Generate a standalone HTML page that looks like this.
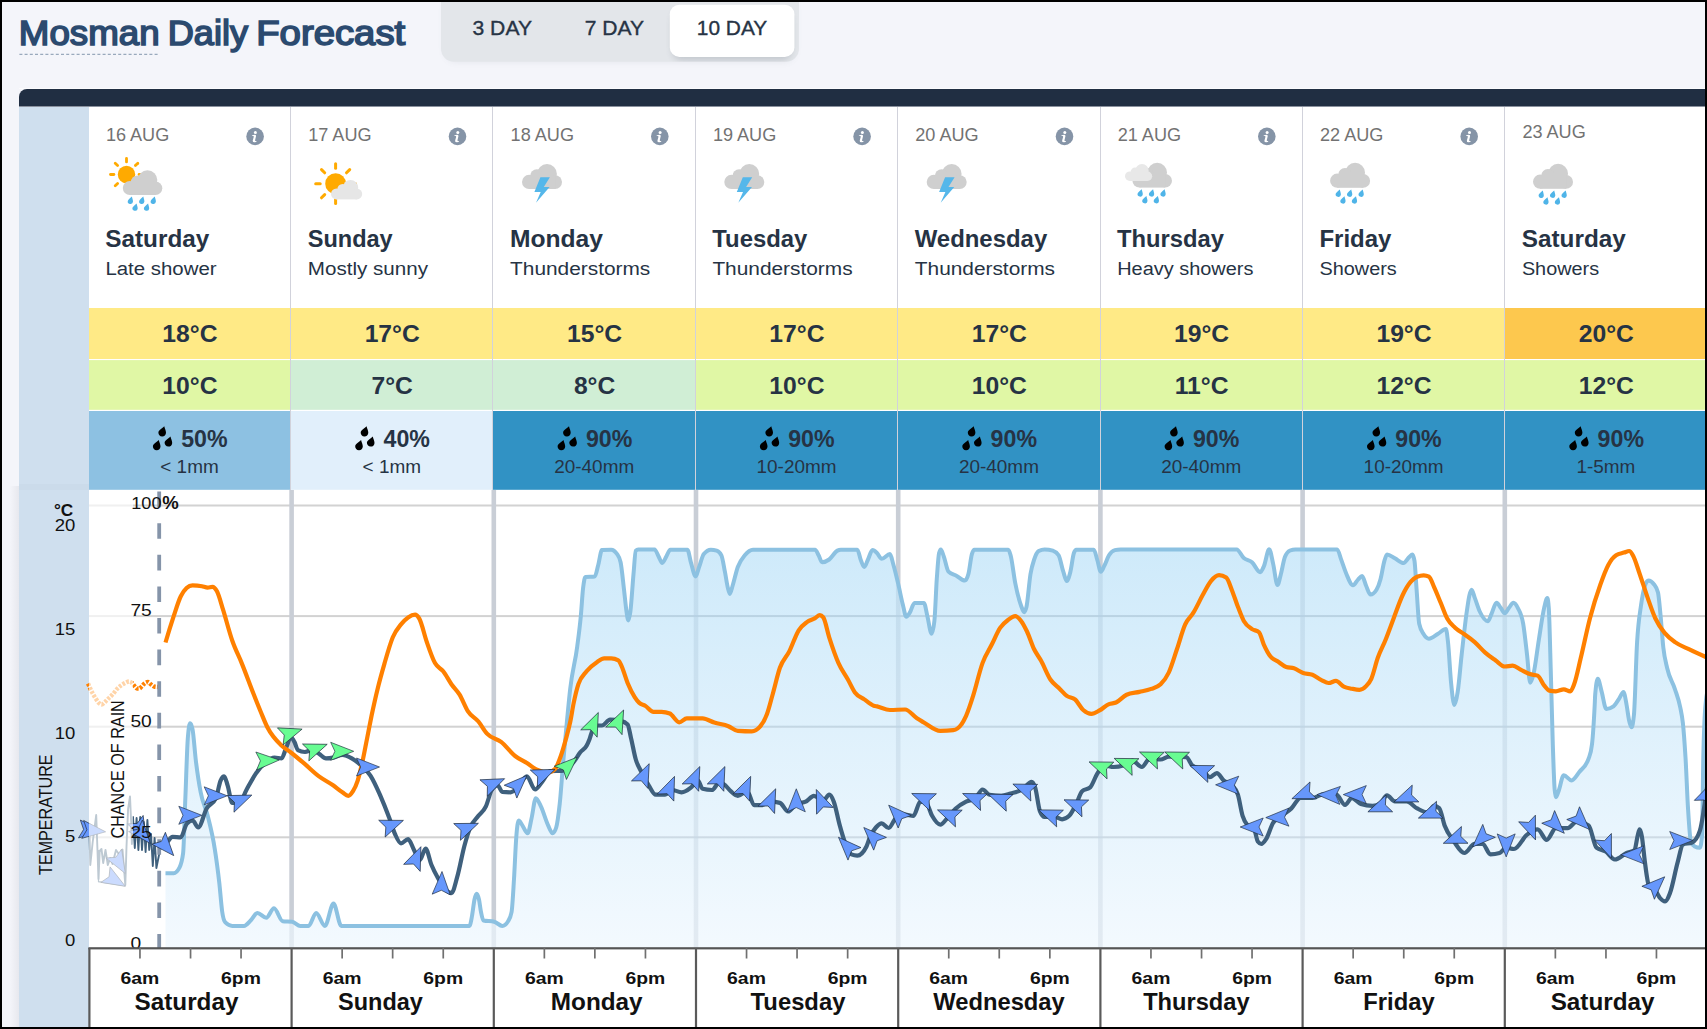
<!DOCTYPE html>
<html lang="en"><head><meta charset="utf-8"><title>Mosman Daily Forecast</title>
<style>html,body{margin:0;padding:0;background:#f4f5fa;}body{width:1707px;height:1029px;overflow:hidden;position:relative;font-family:"Liberation Sans", sans-serif;}svg{display:block;position:absolute;left:0;top:0;}text{font-family:"Liberation Sans", sans-serif;}</style>
</head><body>
<svg width="1707" height="1029" viewBox="0 0 1707 1029">
<defs>
<linearGradient id="rg" gradientUnits="userSpaceOnUse" x1="0" y1="549" x2="0" y2="948"><stop offset="0" stop-color="rgb(186,225,248)" stop-opacity="0.7"/><stop offset="1" stop-color="rgb(238,247,254)" stop-opacity="0.7"/></linearGradient>
<linearGradient id="lsh" x1="0" y1="0" x2="1" y2="0"><stop offset="0" stop-color="#f4f5fa" stop-opacity="0"/><stop offset="0.45" stop-color="#f4f5fa"/><stop offset="1" stop-color="#e7e8ee"/></linearGradient>
<linearGradient id="fadeL" x1="0" y1="0" x2="1" y2="0"><stop offset="0" stop-color="#fff" stop-opacity="0.75"/><stop offset="0.85" stop-color="#fff" stop-opacity="0.7"/><stop offset="1" stop-color="#fff" stop-opacity="0"/></linearGradient>
<clipPath id="chartclip"><rect x="89" y="490" width="1616" height="459"/></clipPath>
<clipPath id="obsclip"><rect x="77.5" y="490" width="91" height="459"/></clipPath>
<path id="arr" d="M0 0L-23 -9L-18.8 0L-23 9Z"/>
</defs>
<rect x="0" y="0" width="1707" height="1029" fill="#f4f5fa"/>
<g font-size="34.3" fill="#2b4a6f" stroke="#2b4a6f" stroke-width="1.6" stroke-linejoin="miter" stroke-miterlimit="3">
<text x="18.8" y="44.6" textLength="140.8" lengthAdjust="spacingAndGlyphs">Mosman</text>
<text x="167.8" y="44.6" textLength="80.2" lengthAdjust="spacingAndGlyphs">Daily</text>
<text x="256.2" y="44.6" textLength="149" lengthAdjust="spacingAndGlyphs">Forecast</text>
</g>
<line x1="19.4" y1="54.3" x2="159" y2="54.3" stroke="#8296ad" stroke-width="1" stroke-dasharray="3 2.2"/>
<filter id="b4" x="-20%" y="-40%" width="140%" height="200%"><feGaussianBlur stdDeviation="3.2"/></filter>
<rect x="444" y="-6" width="352" height="68.5" rx="13" fill="#6b7686" opacity="0.10" filter="url(#b4)"/>
<clipPath id="tabclip"><rect x="441" y="-10" width="358" height="71.8" rx="13"/></clipPath>
<rect x="441" y="-10" width="358" height="71.8" rx="13" fill="#e3e6ea"/>
<g clip-path="url(#tabclip)"><rect x="672" y="10" width="120" height="50.5" rx="10" fill="#4b5563" opacity="0.2" filter="url(#b4)"/></g>
<rect x="669.8" y="4.7" width="124.6" height="52.2" rx="9.5" fill="#ffffff"/>
<g font-size="20.8" fill="#273445" stroke="#273445" stroke-width="0.35">
<text x="472.5" y="34.8" textLength="59.5" lengthAdjust="spacingAndGlyphs">3 DAY</text>
<text x="584.7" y="34.8" textLength="59.3" lengthAdjust="spacingAndGlyphs">7 DAY</text>
<text x="696.8" y="34.8" textLength="70.5" lengthAdjust="spacingAndGlyphs">10 DAY</text>
</g>
<rect x="19" y="88" width="1686" height="1" fill="#fbfbfd"/>
<path d="M19 106.6V97a8 8 0 0 1 8-8H1705V106.6Z" fill="#202e42"/>
<rect x="89" y="107" width="1616" height="920" fill="#ffffff"/>
<rect x="2" y="486" width="17" height="541" fill="url(#lsh)"/>
<rect x="19" y="107" width="70" height="920" fill="#cfdfee"/>
<rect x="19" y="484" width="70" height="6" fill="#c9d9e8" opacity="0.7"/>
<rect x="89" y="308" width="202" height="51" fill="#ffea86"/>
<rect x="89" y="360" width="202" height="49.9" fill="#e0f7a5"/>
<rect x="89" y="411" width="202" height="78.8" fill="#8dc1e2"/>
<rect x="291" y="308" width="202" height="51" fill="#ffea86"/>
<rect x="291" y="360" width="202" height="49.9" fill="#d0eed5"/>
<rect x="291" y="411" width="202" height="78.8" fill="#e1effb"/>
<rect x="493" y="308" width="203" height="51" fill="#ffea86"/>
<rect x="493" y="360" width="203" height="49.9" fill="#d0eed5"/>
<rect x="493" y="411" width="203" height="78.8" fill="#3192c4"/>
<rect x="696" y="308" width="202" height="51" fill="#ffea86"/>
<rect x="696" y="360" width="202" height="49.9" fill="#e0f7a5"/>
<rect x="696" y="411" width="202" height="78.8" fill="#3192c4"/>
<rect x="898" y="308" width="203" height="51" fill="#ffea86"/>
<rect x="898" y="360" width="203" height="49.9" fill="#e0f7a5"/>
<rect x="898" y="411" width="203" height="78.8" fill="#3192c4"/>
<rect x="1101" y="308" width="202" height="51" fill="#ffea86"/>
<rect x="1101" y="360" width="202" height="49.9" fill="#e0f7a5"/>
<rect x="1101" y="411" width="202" height="78.8" fill="#3192c4"/>
<rect x="1303" y="308" width="202" height="51" fill="#ffea86"/>
<rect x="1303" y="360" width="202" height="49.9" fill="#e0f7a5"/>
<rect x="1303" y="411" width="202" height="78.8" fill="#3192c4"/>
<rect x="1505" y="308" width="200" height="51" fill="#fdc84e"/>
<rect x="1505" y="360" width="200" height="49.9" fill="#e0f7a5"/>
<rect x="1505" y="411" width="200" height="78.8" fill="#3192c4"/>
<rect x="89" y="359" width="1616" height="1.1" fill="#ffffff"/>
<rect x="89" y="409.9" width="1616" height="1.1" fill="#ffffff"/>
<rect x="290" y="107" width="1" height="383" fill="#d1d2db" shape-rendering="crispEdges"/>
<rect x="492" y="107" width="1" height="383" fill="#d1d2db" shape-rendering="crispEdges"/>
<rect x="695" y="107" width="1" height="383" fill="#d1d2db" shape-rendering="crispEdges"/>
<rect x="897" y="107" width="1" height="383" fill="#d1d2db" shape-rendering="crispEdges"/>
<rect x="1100" y="107" width="1" height="383" fill="#d1d2db" shape-rendering="crispEdges"/>
<rect x="1302" y="107" width="1" height="383" fill="#d1d2db" shape-rendering="crispEdges"/>
<rect x="1504" y="107" width="1" height="383" fill="#d1d2db" shape-rendering="crispEdges"/>
<text x="105.9" y="141.1" font-size="18.1" fill="#727272">16 AUG</text>
<circle cx="255.1" cy="136.4" r="8.8" fill="#8594a7"/>
<g transform="translate(255.1 136.4)" fill="#fff"><circle cx="0.3" cy="-4" r="1.5"/><path d="M-3.26 -1.26L-0.2 -1.54Q1.16 -1.43 0.92 -0.07L-0.1 4.01Q-0.03 4.52 1.67 4.62Q1.33 5.88 -0.54 5.88Q-2.75 5.88 -2.34 4.01L-1.32 0.27Q-1.22 -0.41 -3.09 -0.58Z"/></g>
<circle cx="126.5" cy="174.5" r="8.7" fill="#ffaa00"/><g stroke="#ffaa00" stroke-width="2.8" stroke-linecap="round"><line x1="126.5" y1="161.9" x2="126.5" y2="158.5"/><line x1="117.6" y1="165.6" x2="115.2" y2="163.2"/><line x1="135.4" y1="165.6" x2="137.8" y2="163.2"/><line x1="113.9" y1="174.5" x2="110.5" y2="174.5"/><line x1="117.6" y1="183.4" x2="115.2" y2="185.8"/><line x1="139.1" y1="174.5" x2="142.5" y2="174.5"/></g><g fill="#cfcfcf"><circle cx="147.5" cy="180.1" r="9.8"/><circle cx="129.8" cy="188" r="7"/><circle cx="155.5" cy="188.2" r="6.8"/><circle cx="137.5" cy="182.2" r="6.7"/><rect x="129.8" y="182.2" width="25.7" height="12.8"/></g><path fill="#4fb4e8" d="M131.9 196.6 C132.2 198.4 133 199.8 133 201.6 A2.6 2.6 0 1 1 128 200.4 C128.8 199.5 130.3 197.8 131.9 196.6 Z"/><path fill="#4fb4e8" d="M143.3 196.6 C143.6 198.4 144.4 199.8 144.4 201.6 A2.6 2.6 0 1 1 139.4 200.4 C140.2 199.5 141.7 197.8 143.3 196.6 Z"/><path fill="#4fb4e8" d="M154.8 196.6 C155.1 198.4 155.9 199.8 155.9 201.6 A2.6 2.6 0 1 1 150.9 200.4 C151.7 199.5 153.2 197.8 154.8 196.6 Z"/><path fill="#4fb4e8" d="M136.6 203.4 C136.9 205.2 137.7 206.6 137.7 208.4 A2.6 2.6 0 1 1 132.7 207.2 C133.5 206.3 135 204.6 136.6 203.4 Z"/><path fill="#4fb4e8" d="M148.1 203.4 C148.4 205.2 149.2 206.6 149.2 208.4 A2.6 2.6 0 1 1 144.2 207.2 C145 206.3 146.5 204.6 148.1 203.4 Z"/>
<text x="105.3" y="246.9" font-size="23" font-weight="bold" fill="#263344" textLength="104" lengthAdjust="spacingAndGlyphs">Saturday</text>
<text x="105.4" y="275.2" font-size="19.2" fill="#263344" textLength="111.2" lengthAdjust="spacingAndGlyphs">Late shower</text>
<text x="0" y="342.4" font-size="23.5" font-weight="bold" fill="#263344" text-anchor="middle" transform="translate(189.9 0) scale(1.05 1)">18°C</text>
<text x="0" y="393.8" font-size="23.5" font-weight="bold" fill="#263344" text-anchor="middle" transform="translate(189.9 0) scale(1.05 1)">10°C</text>
<text x="181.2" y="446.9" font-size="23.2" font-weight="bold" fill="#263344">50%</text>
<path fill="#000" d="M164.3 426.3 C164.7 428.9 166.1 430.5 166 432.8 C165.9 435.1 164.2 436.6 162.1 436.5 C159.9 436.4 158.3 434.7 158.4 432.5 C158.6 429.9 162.3 428.5 164.3 426.3 Z"/><path fill="#000" d="M170.5 436.4 C170.9 439 172.3 440.6 172.2 442.9 C172.1 445.2 170.4 446.7 168.3 446.6 C166.1 446.5 164.5 444.8 164.6 442.6 C164.8 440 168.5 438.6 170.5 436.4 Z"/><path fill="#000" d="M158.8 440 C159.2 442.6 160.6 444.2 160.5 446.5 C160.4 448.8 158.7 450.3 156.6 450.2 C154.4 450.1 152.8 448.4 152.9 446.2 C153.1 443.6 156.8 442.2 158.8 440 Z"/>
<text x="0" y="472.8" font-size="17.8" fill="#263344" text-anchor="middle" transform="translate(189.5 0) scale(1.065 1)">< 1mm</text>
<text x="308.2" y="141.1" font-size="18.1" fill="#727272">17 AUG</text>
<circle cx="457.5" cy="136.4" r="8.8" fill="#8594a7"/>
<g transform="translate(457.5 136.4)" fill="#fff"><circle cx="0.3" cy="-4" r="1.5"/><path d="M-3.26 -1.26L-0.2 -1.54Q1.16 -1.43 0.92 -0.07L-0.1 4.01Q-0.03 4.52 1.67 4.62Q1.33 5.88 -0.54 5.88Q-2.75 5.88 -2.34 4.01L-1.32 0.27Q-1.22 -0.41 -3.09 -0.58Z"/></g>
<circle cx="335.6" cy="183.7" r="10.4" fill="#ffaa00"/><g stroke="#ffaa00" stroke-width="3" stroke-linecap="round"><line x1="335.6" y1="168.3" x2="335.6" y2="163.8"/><line x1="324.7" y1="172.8" x2="321.5" y2="169.6"/><line x1="346.5" y1="172.8" x2="349.7" y2="169.6"/><line x1="320.2" y1="183.7" x2="315.7" y2="183.7"/><line x1="324.7" y1="194.6" x2="321.5" y2="197.8"/><line x1="335.6" y1="199.1" x2="335.6" y2="203.6"/><line x1="351" y1="183.7" x2="355.5" y2="183.7"/></g><g fill="#e6e6e6"><circle cx="350.5" cy="187.6" r="7.7"/><circle cx="336.5" cy="193.9" r="5.5"/><circle cx="356.8" cy="194" r="5.4"/><circle cx="342.6" cy="189.3" r="5.3"/><rect x="336.5" y="189.3" width="20.3" height="10.1"/></g>
<text x="307.7" y="246.9" font-size="23" font-weight="bold" fill="#263344" textLength="85" lengthAdjust="spacingAndGlyphs">Sunday</text>
<text x="307.8" y="275.2" font-size="19.2" fill="#263344" textLength="120.2" lengthAdjust="spacingAndGlyphs">Mostly sunny</text>
<text x="0" y="342.4" font-size="23.5" font-weight="bold" fill="#263344" text-anchor="middle" transform="translate(392.2 0) scale(1.05 1)">17°C</text>
<text x="0" y="393.8" font-size="23.5" font-weight="bold" fill="#263344" text-anchor="middle" transform="translate(392.2 0) scale(1.05 1)">7°C</text>
<text x="383.5" y="446.9" font-size="23.2" font-weight="bold" fill="#263344">40%</text>
<path fill="#000" d="M366.6 426.3 C367 428.9 368.4 430.5 368.3 432.8 C368.2 435.1 366.5 436.6 364.4 436.5 C362.2 436.4 360.6 434.7 360.7 432.5 C360.9 429.9 364.6 428.5 366.6 426.3 Z"/><path fill="#000" d="M372.8 436.4 C373.2 439 374.6 440.6 374.5 442.9 C374.4 445.2 372.7 446.7 370.6 446.6 C368.4 446.5 366.8 444.8 366.9 442.6 C367.1 440 370.8 438.6 372.8 436.4 Z"/><path fill="#000" d="M361.1 440 C361.5 442.6 362.9 444.2 362.8 446.5 C362.7 448.8 361 450.3 358.9 450.2 C356.7 450.1 355.1 448.4 355.2 446.2 C355.4 443.6 359.1 442.2 361.1 440 Z"/>
<text x="0" y="472.8" font-size="17.8" fill="#263344" text-anchor="middle" transform="translate(391.8 0) scale(1.065 1)">< 1mm</text>
<text x="510.6" y="141.1" font-size="18.1" fill="#727272">18 AUG</text>
<circle cx="659.8" cy="136.4" r="8.8" fill="#8594a7"/>
<g transform="translate(659.8 136.4)" fill="#fff"><circle cx="0.3" cy="-4" r="1.5"/><path d="M-3.26 -1.26L-0.2 -1.54Q1.16 -1.43 0.92 -0.07L-0.1 4.01Q-0.03 4.52 1.67 4.62Q1.33 5.88 -0.54 5.88Q-2.75 5.88 -2.34 4.01L-1.32 0.27Q-1.22 -0.41 -3.09 -0.58Z"/></g>
<g fill="#cfcfcf"><circle cx="547" cy="173.9" r="9.9"/><circle cx="529.1" cy="181.9" r="7.1"/><circle cx="555.1" cy="182.1" r="6.9"/><circle cx="536.9" cy="176" r="6.8"/><rect x="529.1" y="176" width="26" height="13"/></g><polygon fill="#55b7ea" points="540.4,177.2 549.9,177.2 543.8,186.9 549.6,186.9 536,202.7 540.7,192 534.4,192"/>
<text x="510" y="246.9" font-size="23" font-weight="bold" fill="#263344" textLength="93" lengthAdjust="spacingAndGlyphs">Monday</text>
<text x="510.1" y="275.2" font-size="19.2" fill="#263344" textLength="140.2" lengthAdjust="spacingAndGlyphs">Thunderstorms</text>
<text x="0" y="342.4" font-size="23.5" font-weight="bold" fill="#263344" text-anchor="middle" transform="translate(594.6 0) scale(1.05 1)">15°C</text>
<text x="0" y="393.8" font-size="23.5" font-weight="bold" fill="#263344" text-anchor="middle" transform="translate(594.6 0) scale(1.05 1)">8°C</text>
<text x="585.9" y="446.9" font-size="23.2" font-weight="bold" fill="#263344">90%</text>
<path fill="#000" d="M569 426.3 C569.4 428.9 570.8 430.5 570.7 432.8 C570.6 435.1 568.9 436.6 566.8 436.5 C564.6 436.4 563 434.7 563.1 432.5 C563.3 429.9 567 428.5 569 426.3 Z"/><path fill="#000" d="M575.2 436.4 C575.6 439 577 440.6 576.9 442.9 C576.8 445.2 575.1 446.7 573 446.6 C570.8 446.5 569.2 444.8 569.3 442.6 C569.5 440 573.2 438.6 575.2 436.4 Z"/><path fill="#000" d="M563.5 440 C563.9 442.6 565.3 444.2 565.2 446.5 C565.1 448.8 563.4 450.3 561.3 450.2 C559.1 450.1 557.5 448.4 557.6 446.2 C557.8 443.6 561.5 442.2 563.5 440 Z"/>
<text x="0" y="472.8" font-size="17.8" fill="#263344" text-anchor="middle" transform="translate(594.2 0) scale(1.065 1)">20-40mm</text>
<text x="712.9" y="141.1" font-size="18.1" fill="#727272">19 AUG</text>
<circle cx="862.1" cy="136.4" r="8.8" fill="#8594a7"/>
<g transform="translate(862.1 136.4)" fill="#fff"><circle cx="0.3" cy="-4" r="1.5"/><path d="M-3.26 -1.26L-0.2 -1.54Q1.16 -1.43 0.92 -0.07L-0.1 4.01Q-0.03 4.52 1.67 4.62Q1.33 5.88 -0.54 5.88Q-2.75 5.88 -2.34 4.01L-1.32 0.27Q-1.22 -0.41 -3.09 -0.58Z"/></g>
<g fill="#cfcfcf"><circle cx="749.3" cy="173.9" r="9.9"/><circle cx="731.4" cy="181.9" r="7.1"/><circle cx="757.4" cy="182.1" r="6.9"/><circle cx="739.2" cy="176" r="6.8"/><rect x="731.4" y="176" width="26" height="13"/></g><polygon fill="#55b7ea" points="742.8,177.2 752.2,177.2 746.1,186.9 752,186.9 738.3,202.7 743,192 736.8,192"/>
<text x="712.3" y="246.9" font-size="23" font-weight="bold" fill="#263344" textLength="95" lengthAdjust="spacingAndGlyphs">Tuesday</text>
<text x="712.4" y="275.2" font-size="19.2" fill="#263344" textLength="140.2" lengthAdjust="spacingAndGlyphs">Thunderstorms</text>
<text x="0" y="342.4" font-size="23.5" font-weight="bold" fill="#263344" text-anchor="middle" transform="translate(796.9 0) scale(1.05 1)">17°C</text>
<text x="0" y="393.8" font-size="23.5" font-weight="bold" fill="#263344" text-anchor="middle" transform="translate(796.9 0) scale(1.05 1)">10°C</text>
<text x="788.2" y="446.9" font-size="23.2" font-weight="bold" fill="#263344">90%</text>
<path fill="#000" d="M771.3 426.3 C771.7 428.9 773.1 430.5 773 432.8 C772.9 435.1 771.2 436.6 769.1 436.5 C766.9 436.4 765.3 434.7 765.4 432.5 C765.6 429.9 769.3 428.5 771.3 426.3 Z"/><path fill="#000" d="M777.5 436.4 C777.9 439 779.3 440.6 779.2 442.9 C779.1 445.2 777.4 446.7 775.3 446.6 C773.1 446.5 771.5 444.8 771.6 442.6 C771.8 440 775.5 438.6 777.5 436.4 Z"/><path fill="#000" d="M765.8 440 C766.2 442.6 767.6 444.2 767.5 446.5 C767.4 448.8 765.7 450.3 763.6 450.2 C761.4 450.1 759.8 448.4 759.9 446.2 C760.1 443.6 763.8 442.2 765.8 440 Z"/>
<text x="0" y="472.8" font-size="17.8" fill="#263344" text-anchor="middle" transform="translate(796.5 0) scale(1.065 1)">10-20mm</text>
<text x="915.3" y="141.1" font-size="18.1" fill="#727272">20 AUG</text>
<circle cx="1064.5" cy="136.4" r="8.8" fill="#8594a7"/>
<g transform="translate(1064.5 136.4)" fill="#fff"><circle cx="0.3" cy="-4" r="1.5"/><path d="M-3.26 -1.26L-0.2 -1.54Q1.16 -1.43 0.92 -0.07L-0.1 4.01Q-0.03 4.52 1.67 4.62Q1.33 5.88 -0.54 5.88Q-2.75 5.88 -2.34 4.01L-1.32 0.27Q-1.22 -0.41 -3.09 -0.58Z"/></g>
<g fill="#cfcfcf"><circle cx="951.7" cy="173.9" r="9.9"/><circle cx="933.8" cy="181.9" r="7.1"/><circle cx="959.8" cy="182.1" r="6.9"/><circle cx="941.6" cy="176" r="6.8"/><rect x="933.8" y="176" width="26" height="13"/></g><polygon fill="#55b7ea" points="945.1,177.2 954.6,177.2 948.5,186.9 954.3,186.9 940.7,202.7 945.4,192 939.1,192"/>
<text x="914.7" y="246.9" font-size="23" font-weight="bold" fill="#263344" textLength="132.5" lengthAdjust="spacingAndGlyphs">Wednesday</text>
<text x="914.8" y="275.2" font-size="19.2" fill="#263344" textLength="140.2" lengthAdjust="spacingAndGlyphs">Thunderstorms</text>
<text x="0" y="342.4" font-size="23.5" font-weight="bold" fill="#263344" text-anchor="middle" transform="translate(999.3 0) scale(1.05 1)">17°C</text>
<text x="0" y="393.8" font-size="23.5" font-weight="bold" fill="#263344" text-anchor="middle" transform="translate(999.3 0) scale(1.05 1)">10°C</text>
<text x="990.6" y="446.9" font-size="23.2" font-weight="bold" fill="#263344">90%</text>
<path fill="#000" d="M973.7 426.3 C974.1 428.9 975.5 430.5 975.4 432.8 C975.3 435.1 973.6 436.6 971.5 436.5 C969.3 436.4 967.7 434.7 967.8 432.5 C968 429.9 971.7 428.5 973.7 426.3 Z"/><path fill="#000" d="M979.9 436.4 C980.3 439 981.7 440.6 981.6 442.9 C981.5 445.2 979.8 446.7 977.7 446.6 C975.5 446.5 973.9 444.8 974 442.6 C974.2 440 977.9 438.6 979.9 436.4 Z"/><path fill="#000" d="M968.2 440 C968.6 442.6 970 444.2 969.9 446.5 C969.8 448.8 968.1 450.3 966 450.2 C963.8 450.1 962.2 448.4 962.3 446.2 C962.5 443.6 966.2 442.2 968.2 440 Z"/>
<text x="0" y="472.8" font-size="17.8" fill="#263344" text-anchor="middle" transform="translate(998.9 0) scale(1.065 1)">20-40mm</text>
<text x="1117.7" y="141.1" font-size="18.1" fill="#727272">21 AUG</text>
<circle cx="1266.8" cy="136.4" r="8.8" fill="#8594a7"/>
<g transform="translate(1266.8 136.4)" fill="#fff"><circle cx="0.3" cy="-4" r="1.5"/><path d="M-3.26 -1.26L-0.2 -1.54Q1.16 -1.43 0.92 -0.07L-0.1 4.01Q-0.03 4.52 1.67 4.62Q1.33 5.88 -0.54 5.88Q-2.75 5.88 -2.34 4.01L-1.32 0.27Q-1.22 -0.41 -3.09 -0.58Z"/></g>
<g fill="#cfcfcf"><circle cx="1157.2" cy="172.6" r="9.8"/><circle cx="1139.4" cy="180.5" r="7"/><circle cx="1165.2" cy="180.7" r="6.8"/><circle cx="1147.2" cy="174.7" r="6.7"/><rect x="1139.4" y="174.7" width="25.7" height="12.9"/></g><g fill="#e8e8e8"><circle cx="1142" cy="170.7" r="6.7"/><circle cx="1129.8" cy="176.2" r="4.8"/><circle cx="1147.5" cy="176.3" r="4.7"/><circle cx="1135.1" cy="172.2" r="4.6"/><rect x="1129.8" y="172.2" width="17.7" height="8.8"/></g><path fill="#4fb4e8" d="M1141.7 189.2 C1142 191 1142.8 192.4 1142.8 194.2 A2.6 2.6 0 1 1 1137.8 193 C1138.6 192.1 1140.1 190.4 1141.7 189.2 Z"/><path fill="#4fb4e8" d="M1153.1 189.2 C1153.4 191 1154.2 192.4 1154.2 194.2 A2.6 2.6 0 1 1 1149.2 193 C1150 192.1 1151.5 190.4 1153.1 189.2 Z"/><path fill="#4fb4e8" d="M1164.6 189.2 C1164.9 191 1165.7 192.4 1165.7 194.2 A2.6 2.6 0 1 1 1160.7 193 C1161.5 192.1 1163 190.4 1164.6 189.2 Z"/><path fill="#4fb4e8" d="M1146.4 196 C1146.7 197.8 1147.5 199.2 1147.5 201 A2.6 2.6 0 1 1 1142.5 199.8 C1143.3 198.9 1144.8 197.2 1146.4 196 Z"/><path fill="#4fb4e8" d="M1157.9 196 C1158.2 197.8 1159 199.2 1159 201 A2.6 2.6 0 1 1 1154 199.8 C1154.8 198.9 1156.3 197.2 1157.9 196 Z"/>
<text x="1117" y="246.9" font-size="23" font-weight="bold" fill="#263344" textLength="107" lengthAdjust="spacingAndGlyphs">Thursday</text>
<text x="1117.2" y="275.2" font-size="19.2" fill="#263344" textLength="136.2" lengthAdjust="spacingAndGlyphs">Heavy showers</text>
<text x="0" y="342.4" font-size="23.5" font-weight="bold" fill="#263344" text-anchor="middle" transform="translate(1201.6 0) scale(1.05 1)">19°C</text>
<text x="0" y="393.8" font-size="23.5" font-weight="bold" fill="#263344" text-anchor="middle" transform="translate(1201.6 0) scale(1.05 1)">11°C</text>
<text x="1192.9" y="446.9" font-size="23.2" font-weight="bold" fill="#263344">90%</text>
<path fill="#000" d="M1176 426.3 C1176.4 428.9 1177.8 430.5 1177.7 432.8 C1177.6 435.1 1175.9 436.6 1173.8 436.5 C1171.6 436.4 1170 434.7 1170.1 432.5 C1170.3 429.9 1174 428.5 1176 426.3 Z"/><path fill="#000" d="M1182.2 436.4 C1182.6 439 1184 440.6 1183.9 442.9 C1183.8 445.2 1182.1 446.7 1180 446.6 C1177.8 446.5 1176.2 444.8 1176.3 442.6 C1176.5 440 1180.2 438.6 1182.2 436.4 Z"/><path fill="#000" d="M1170.5 440 C1170.9 442.6 1172.3 444.2 1172.2 446.5 C1172.1 448.8 1170.4 450.3 1168.3 450.2 C1166.1 450.1 1164.5 448.4 1164.6 446.2 C1164.8 443.6 1168.5 442.2 1170.5 440 Z"/>
<text x="0" y="472.8" font-size="17.8" fill="#263344" text-anchor="middle" transform="translate(1201.2 0) scale(1.065 1)">20-40mm</text>
<text x="1320" y="141.1" font-size="18.1" fill="#727272">22 AUG</text>
<circle cx="1469.2" cy="136.4" r="8.8" fill="#8594a7"/>
<g transform="translate(1469.2 136.4)" fill="#fff"><circle cx="0.3" cy="-4" r="1.5"/><path d="M-3.26 -1.26L-0.2 -1.54Q1.16 -1.43 0.92 -0.07L-0.1 4.01Q-0.03 4.52 1.67 4.62Q1.33 5.88 -0.54 5.88Q-2.75 5.88 -2.34 4.01L-1.32 0.27Q-1.22 -0.41 -3.09 -0.58Z"/></g>
<g fill="#cfcfcf"><circle cx="1355.1" cy="172.7" r="9.9"/><circle cx="1337.2" cy="180.7" r="7.1"/><circle cx="1363.2" cy="180.9" r="6.9"/><circle cx="1345" cy="174.8" r="6.8"/><rect x="1337.2" y="174.8" width="26" height="13"/></g><path fill="#4fb4e8" d="M1339.8 189.5 C1340.1 191.3 1340.9 192.7 1340.9 194.5 A2.6 2.6 0 1 1 1335.9 193.3 C1336.7 192.4 1338.2 190.7 1339.8 189.5 Z"/><path fill="#4fb4e8" d="M1351.2 189.5 C1351.5 191.3 1352.3 192.7 1352.3 194.5 A2.6 2.6 0 1 1 1347.3 193.3 C1348.1 192.4 1349.6 190.7 1351.2 189.5 Z"/><path fill="#4fb4e8" d="M1362.7 189.5 C1363 191.3 1363.8 192.7 1363.8 194.5 A2.6 2.6 0 1 1 1358.8 193.3 C1359.6 192.4 1361.1 190.7 1362.7 189.5 Z"/><path fill="#4fb4e8" d="M1344.5 196.3 C1344.8 198.1 1345.6 199.5 1345.6 201.3 A2.6 2.6 0 1 1 1340.6 200.1 C1341.4 199.2 1342.9 197.5 1344.5 196.3 Z"/><path fill="#4fb4e8" d="M1356 196.3 C1356.3 198.1 1357.1 199.5 1357.1 201.3 A2.6 2.6 0 1 1 1352.1 200.1 C1352.9 199.2 1354.4 197.5 1356 196.3 Z"/>
<text x="1319.4" y="246.9" font-size="23" font-weight="bold" fill="#263344" textLength="72" lengthAdjust="spacingAndGlyphs">Friday</text>
<text x="1319.5" y="275.2" font-size="19.2" fill="#263344" textLength="77.2" lengthAdjust="spacingAndGlyphs">Showers</text>
<text x="0" y="342.4" font-size="23.5" font-weight="bold" fill="#263344" text-anchor="middle" transform="translate(1404 0) scale(1.05 1)">19°C</text>
<text x="0" y="393.8" font-size="23.5" font-weight="bold" fill="#263344" text-anchor="middle" transform="translate(1404 0) scale(1.05 1)">12°C</text>
<text x="1395.3" y="446.9" font-size="23.2" font-weight="bold" fill="#263344">90%</text>
<path fill="#000" d="M1378.4 426.3 C1378.8 428.9 1380.2 430.5 1380.1 432.8 C1380 435.1 1378.3 436.6 1376.2 436.5 C1374 436.4 1372.4 434.7 1372.5 432.5 C1372.7 429.9 1376.4 428.5 1378.4 426.3 Z"/><path fill="#000" d="M1384.6 436.4 C1385 439 1386.4 440.6 1386.3 442.9 C1386.2 445.2 1384.5 446.7 1382.4 446.6 C1380.2 446.5 1378.6 444.8 1378.7 442.6 C1378.9 440 1382.6 438.6 1384.6 436.4 Z"/><path fill="#000" d="M1372.9 440 C1373.3 442.6 1374.7 444.2 1374.6 446.5 C1374.5 448.8 1372.8 450.3 1370.7 450.2 C1368.5 450.1 1366.9 448.4 1367 446.2 C1367.2 443.6 1370.9 442.2 1372.9 440 Z"/>
<text x="0" y="472.8" font-size="17.8" fill="#263344" text-anchor="middle" transform="translate(1403.6 0) scale(1.065 1)">10-20mm</text>
<text x="1522.4" y="137.9" font-size="18.1" fill="#727272">23 AUG</text>
<g transform="translate(0.6 1)"><g fill="#cfcfcf"><circle cx="1557.5" cy="172.7" r="9.9"/><circle cx="1539.5" cy="180.7" r="7.1"/><circle cx="1565.5" cy="180.9" r="6.9"/><circle cx="1547.4" cy="174.8" r="6.8"/><rect x="1539.5" y="174.8" width="26" height="13"/></g><path fill="#4fb4e8" d="M1542.2 189.5 C1542.5 191.3 1543.2 192.7 1543.2 194.5 A2.6 2.6 0 1 1 1538.3 193.3 C1539.1 192.4 1540.6 190.7 1542.2 189.5 Z"/><path fill="#4fb4e8" d="M1553.6 189.5 C1553.9 191.3 1554.7 192.7 1554.7 194.5 A2.6 2.6 0 1 1 1549.7 193.3 C1550.5 192.4 1552 190.7 1553.6 189.5 Z"/><path fill="#4fb4e8" d="M1565.1 189.5 C1565.4 191.3 1566.2 192.7 1566.2 194.5 A2.6 2.6 0 1 1 1561.2 193.3 C1562 192.4 1563.5 190.7 1565.1 189.5 Z"/><path fill="#4fb4e8" d="M1546.9 196.3 C1547.2 198.1 1548 199.5 1548 201.3 A2.6 2.6 0 1 1 1543 200.1 C1543.8 199.2 1545.3 197.5 1546.9 196.3 Z"/><path fill="#4fb4e8" d="M1558.4 196.3 C1558.7 198.1 1559.5 199.5 1559.5 201.3 A2.6 2.6 0 1 1 1554.5 200.1 C1555.3 199.2 1556.8 197.5 1558.4 196.3 Z"/></g>
<text x="1521.8" y="246.9" font-size="23" font-weight="bold" fill="#263344" textLength="104" lengthAdjust="spacingAndGlyphs">Saturday</text>
<text x="1521.9" y="275.2" font-size="19.2" fill="#263344" textLength="77.2" lengthAdjust="spacingAndGlyphs">Showers</text>
<text x="0" y="342.4" font-size="23.5" font-weight="bold" fill="#263344" text-anchor="middle" transform="translate(1606.3 0) scale(1.05 1)">20°C</text>
<text x="0" y="393.8" font-size="23.5" font-weight="bold" fill="#263344" text-anchor="middle" transform="translate(1606.3 0) scale(1.05 1)">12°C</text>
<text x="1597.6" y="446.9" font-size="23.2" font-weight="bold" fill="#263344">90%</text>
<path fill="#000" d="M1580.7 426.3 C1581.1 428.9 1582.5 430.5 1582.4 432.8 C1582.3 435.1 1580.6 436.6 1578.5 436.5 C1576.3 436.4 1574.7 434.7 1574.8 432.5 C1575 429.9 1578.7 428.5 1580.7 426.3 Z"/><path fill="#000" d="M1586.9 436.4 C1587.3 439 1588.7 440.6 1588.6 442.9 C1588.5 445.2 1586.8 446.7 1584.7 446.6 C1582.5 446.5 1580.9 444.8 1581 442.6 C1581.2 440 1584.9 438.6 1586.9 436.4 Z"/><path fill="#000" d="M1575.2 440 C1575.6 442.6 1577 444.2 1576.9 446.5 C1576.8 448.8 1575.1 450.3 1573 450.2 C1570.8 450.1 1569.2 448.4 1569.3 446.2 C1569.5 443.6 1573.2 442.2 1575.2 440 Z"/>
<text x="0" y="472.8" font-size="17.8" fill="#263344" text-anchor="middle" transform="translate(1605.9 0) scale(1.065 1)">1-5mm</text>
<rect x="89" y="504.5" width="1616" height="2" fill="#d2d2d2"/>
<rect x="89" y="615.1" width="1616" height="2" fill="#d2d2d2"/>
<rect x="89" y="725.7" width="1616" height="2" fill="#d2d2d2"/>
<rect x="89" y="836.3" width="1616" height="2" fill="#d2d2d2"/>
<g clip-path="url(#chartclip)">
<rect x="289.3" y="490" width="4.6" height="458" fill="#c9ced6"/>
<rect x="491.5" y="490" width="4.6" height="458" fill="#c9ced6"/>
<rect x="693.7" y="490" width="4.6" height="458" fill="#c9ced6"/>
<rect x="895.9" y="490" width="4.6" height="458" fill="#c9ced6"/>
<rect x="1098.1" y="490" width="4.6" height="458" fill="#c9ced6"/>
<rect x="1300.3" y="490" width="4.6" height="458" fill="#c9ced6"/>
<rect x="1502.5" y="490" width="4.6" height="458" fill="#c9ced6"/>
<defs><path id="rf" d="M165.5 873.2C168.2 873.2 171 873.2 173.7 873.2C175.7 873.2 177.6 871.2 179.6 867.3C180.8 865 181.9 862.6 183.1 853.3C183.9 847.2 184.6 815.7 185.4 797C186.2 777.4 187 749 187.8 738.4C188.6 728.3 189.3 723.2 190.1 723.2C190.9 723.2 191.7 725.2 192.5 729.1C193.7 734.8 194.8 752.4 196 761.9C197.6 774.6 199.1 784.1 200.7 792.3C203 804.5 205.4 806.4 207.7 815.8C210 825.2 212.4 833.8 214.7 848.6C216.3 858.5 217.8 869.5 219.4 883.7C220.3 892.2 221.3 905.4 222.2 911.8C223.2 918.9 224.3 921.4 225.3 922.4C227.6 924.7 230 925.9 232.3 925.9C236.2 925.9 240.1 925.9 244 925.9C246.4 925.9 248.7 922.3 251.1 920C253.2 917.9 255.3 913 257.4 913C260.4 913 263.3 917.7 266.3 917.7C268.9 917.7 271.4 908.3 274 908.3C276.9 908.3 279.8 920.9 282.7 921.2C285.8 921.5 289 921.4 292.1 921.7C294.8 922 297.6 925.9 300.3 925.9C303 925.9 305.8 925.9 308.5 925.9C311.1 925.9 313.6 913 316.2 913C319.1 913 322 925.9 324.9 925.9C327.8 925.9 330.6 903.6 333.5 903.6C336.1 903.6 338.7 925.9 341.3 925.9C344.2 925.9 347.1 925.9 350 925.9C366.7 925.9 383.3 925.9 400 925.9C420 925.9 440 925.9 460 925.9C463.2 925.9 466.3 925.9 469.5 925.9C470.3 925.9 471.2 920.4 472 916C472.8 911.6 473.7 903.2 474.5 899.5C475.2 896.2 476 893.8 476.7 893.8C477.5 893.8 478.2 896.1 479 899.5C479.7 902.5 480.3 908.7 481 912C481.8 916.2 482.7 920.3 483.5 920.5C487 921.3 490.6 920.9 494.1 921.7C496.8 922.3 499.6 925.9 502.3 925.9C504.2 925.9 506.2 924.3 508.1 921.2C509.3 919.3 510.4 918.1 511.6 911.8C512.4 907.5 513.2 891.8 514 879C514.8 866.7 515.5 846.6 516.3 836.9C517.1 826.7 517.9 820.4 518.7 820.4C519.9 820.4 521 823.5 522.2 825.1C524 827.6 525.8 833.3 527.6 833.3C528.9 833.3 530.3 823.8 531.6 818.1C533 812.1 534.4 798.2 535.8 798.2C537.5 798.2 539.2 802.9 540.9 806.4C543.3 811.2 545.6 820.1 548 825.1C549.5 828.3 551.1 833.3 552.6 833.3C553.8 833.3 555 831.4 556.2 827.5C557.4 823.7 558.5 814.9 559.7 804C560.9 793.1 562 775.2 563.2 761.9C564.4 748.6 565.5 736.2 566.7 724C567.9 711.8 569 699 570.2 688.9C572.5 668.6 574.9 664.5 577.2 646.7C578.4 637.5 579.6 629.1 580.8 616.2C581.6 608 582.3 594.7 583.1 588.1C583.9 581.6 584.6 577 585.4 576.9C588.5 576.6 591.7 576.7 594.8 576.4C596 576.3 597.1 569 598.3 564.7C599.5 560.3 600.7 550.2 601.9 550.1C605 549.8 608.1 549.7 611.2 549.7C613.2 549.7 615.1 551.2 617.1 554.1C618.3 555.8 619.4 556.8 620.6 562.3C621.8 567.8 622.9 580.5 624.1 590.4C624.9 597.2 625.7 606.2 626.5 611.5C627.1 615.5 627.7 620.4 628.3 620.4C629 620.4 629.7 616.7 630.4 611.5C631.4 603.8 632.5 585.4 633.5 574C634.3 565.6 635 551.4 635.8 550.6C636.6 549.8 637.4 549.4 638.2 549.4C643.7 549.4 649.1 549.4 654.6 549.4C655.9 549.4 657.3 554.1 658.6 556.5C659.8 558.7 661.1 563 662.3 563C663.6 563 665 558.7 666.3 556.5C667.6 554.3 669 549.7 670.3 549.7C676 549.7 681.7 549.7 687.4 549.7C688.6 549.7 689.7 558.4 690.9 562.3C692.5 567.5 694 576.4 695.6 576.4C696.8 576.4 697.9 570.2 699.1 567C700.7 562.8 702.2 556.1 703.8 554.1C706.1 551.2 708.5 549.7 710.8 549.7C712.8 549.7 714.7 550 716.7 550.6C718.3 551.1 719.8 552.2 721.4 555.3C722.6 557.6 723.7 565.7 724.9 571.7C725.9 576.8 726.9 584.1 727.9 588.1C728.5 590.6 729.2 594 729.8 594C730.7 594 731.7 588.8 732.6 585.8C734.3 580.3 736.1 571.8 737.8 567C740.1 560.5 742.5 558.1 744.8 555.3C747.5 552 750.3 549.7 753 549.7C762 549.7 771 549.7 780 549.7C791.7 549.7 803.4 549.7 815.1 549.7C816.3 549.7 817.4 553.2 818.6 555.3C819.8 557.4 820.9 562.3 822.1 562.3C824.5 562.3 826.8 561.2 829.2 559.5C831.9 557.5 834.7 552 837.4 550.6C838.6 550 839.7 549.7 840.9 549.7C846.4 549.7 851.8 549.7 857.3 549.7C858.5 549.7 859.6 557.1 860.8 560C862 562.9 863.1 567 864.3 567C865.5 567 866.6 562.4 867.8 560C869.4 556.8 870.9 550.1 872.5 550.1C874 550.1 875.5 551.6 877 553C878.6 554.5 880.1 558.8 881.7 558.8C884.4 558.8 887.2 554.1 889.9 554.1C891.1 554.1 892.2 560.7 893.4 564.7C895 570.1 896.5 576.8 898.1 583.4C899.7 590 901.2 598.4 902.8 604.5C904 609.1 905.1 616.7 906.3 616.7C907.5 616.7 908.6 614.5 909.8 612.7C911.4 610.3 912.9 602.9 914.5 602.9C917.6 602.9 920.8 602.9 923.9 602.9C925.1 602.9 926.2 611.6 927.4 616.2C928.8 621.8 930.2 633.8 931.6 633.8C932.5 633.8 933.5 629.5 934.4 620.9C935.2 613.5 936 590.1 936.8 578.7C937.6 567.7 938.3 556.2 939.1 553C939.7 550.6 940.2 549.4 940.8 549.4C941.8 549.4 942.8 553.8 943.8 556.5C945.4 560.7 946.9 570.1 948.5 571.7C951.2 574.5 954 574.4 956.7 575.9C959.4 577.4 962.2 580.6 964.9 580.6C966.1 580.6 967.2 578.4 968.4 574C969.6 569.6 970.7 558.1 971.9 554.1C972.7 551.4 973.5 549.7 974.3 549.7C979.5 549.7 984.8 549.7 990 549.7C996.1 549.7 1002.2 549.7 1008.3 549.7C1009.1 549.7 1009.8 552.5 1010.6 555.3C1012.2 560.9 1013.7 575.5 1015.3 583.4C1017.2 593.1 1019.2 600.5 1021.1 605.7C1022.1 608.5 1023.2 612.2 1024.2 612.2C1025 612.2 1025.7 610.2 1026.5 606.8C1027.8 600.8 1029.2 581.9 1030.5 574C1031.7 567 1032.8 563.6 1034 560C1035.6 555.1 1037.1 552 1038.7 551.1C1040.7 550 1042.6 549.4 1044.6 549.4C1047.3 549.4 1050.1 549.8 1052.8 550.6C1054.7 551.2 1056.7 552.2 1058.6 555.3C1060.2 557.8 1061.7 567 1063.3 571.7C1064.5 575.2 1065.6 581.1 1066.8 581.1C1068 581.1 1069.2 576.5 1070.4 571.7C1071.6 567 1072.7 556.3 1073.9 553C1074.7 550.8 1075.4 549.7 1076.2 549.7C1082.1 549.7 1087.9 549.7 1093.8 549.7C1095 549.7 1096.1 556.3 1097.3 560C1098.5 563.7 1099.6 571.7 1100.8 571.7C1102 571.7 1103.1 568 1104.3 565.8C1105.9 562.8 1107.4 557.9 1109 555.3C1111 552.1 1112.9 550.6 1114.9 550.1C1116.8 549.6 1118.8 549.4 1120.7 549.4C1140.5 549.4 1160.2 549.4 1180 549.4C1198.9 549.4 1217.8 549.4 1236.7 549.4C1239.1 549.4 1241.4 556 1243.8 558.1C1246.5 560.5 1249.3 559.9 1252 562.3C1254.7 564.6 1257.5 572.2 1260.2 572.2C1261.4 572.2 1262.7 569 1263.9 566.2C1265.7 562.2 1267.4 549.2 1269.2 549.2C1270.5 549.2 1271.8 558.1 1273.1 563.6C1274.6 569.8 1276 585 1277.5 585C1278.6 585 1279.8 578.2 1280.9 574C1282.2 569.1 1283.6 560.3 1284.9 557C1286.6 552.7 1288.4 551.2 1290.1 550.5C1291.9 549.8 1293.6 549.4 1295.4 549.4C1301.9 549.4 1308.5 549.4 1315 549.4C1322.4 549.4 1329.8 549.4 1337.2 549.4C1338.5 549.4 1339.9 556.1 1341.2 559.6C1342.9 564.2 1344.7 570 1346.4 574C1348.6 579.1 1350.8 585.3 1353 585.3C1354.7 585.3 1356.5 581 1358.2 579.3C1359.5 578 1360.8 576.1 1362.1 576.1C1363.4 576.1 1364.8 582.9 1366.1 585.8C1367.6 589 1369 594.5 1370.5 594.5C1372.5 594.5 1374.5 592.9 1376.5 589.7C1377.8 587.6 1379.2 584.2 1380.5 579.3C1381.8 574.5 1383.1 565.3 1384.4 560.9C1385.3 558 1386.1 554.4 1387 554.4C1389.6 554.4 1392.3 556.9 1394.9 558.3C1397.8 559.8 1400.6 563 1403.5 563C1405.4 563 1407.4 558.8 1409.3 557C1410.3 556.1 1411.4 554.4 1412.4 554.4C1413.1 554.4 1413.8 556.6 1414.5 560.9C1415.2 565.2 1415.9 580.3 1416.6 589.7C1417.5 601.4 1418.3 619.8 1419.2 623.8C1420.7 630.8 1422.2 631.8 1423.7 634.3C1425.4 637.1 1427.2 638.7 1428.9 638.7C1432 638.7 1435 635.5 1438.1 633.7C1440.7 632.2 1443.3 629 1445.9 629C1446.6 629 1447.3 635.8 1448 642.1C1449.1 651.7 1450.1 673.5 1451.2 684C1452.2 694.2 1453.3 705 1454.3 705C1455.4 705 1456.6 699.2 1457.7 691.9C1459 683.5 1460.3 666.9 1461.6 655.2C1463.4 639.3 1465.1 622.7 1466.9 610.7C1467.8 604.8 1468.6 598.5 1469.5 595C1470.2 592.1 1470.9 589.7 1471.6 589.7C1472.6 589.7 1473.7 594.9 1474.7 597.6C1476.5 602.2 1478.2 608.3 1480 612C1482.6 617.4 1485.2 621.2 1487.8 621.2C1489.1 621.2 1490.4 616 1491.7 613.3C1493.3 609.9 1494.9 602.8 1496.5 602.8C1498 602.8 1499.4 606.2 1500.9 608.1C1502.2 609.8 1503.5 613.3 1504.8 613.3C1506.1 613.3 1507.5 609.7 1508.8 608.1C1510.4 606.2 1511.9 602.8 1513.5 602.8C1515 602.8 1516.4 605.2 1517.9 608.1C1519.7 611.6 1521.4 613.4 1523.2 623.8C1524.5 631.5 1525.8 644.1 1527.1 655.2C1528.1 664 1529.2 682.7 1530.2 682.7C1531.3 682.7 1532.5 678.2 1533.6 673.5C1535.4 666.2 1537.1 650.5 1538.9 639.5C1540.6 628.7 1542.4 615.4 1544.1 608.1C1545.2 603.6 1546.2 598.1 1547.3 598.1C1547.8 598.1 1548.3 601.4 1548.8 608.1C1549.4 616.5 1550.1 646.9 1550.7 668.3C1551.4 692 1552.1 723.3 1552.8 744.3C1553.4 762.3 1554 781 1554.6 788.8C1555 794.4 1555.5 797.2 1555.9 797.2C1556.8 797.2 1557.6 793.6 1558.5 791.4C1560.3 787 1562 775.2 1563.8 775.2C1566.4 775.2 1569 780.4 1571.6 780.4C1574.2 780.4 1576.9 775.1 1579.5 771.8C1582.5 768 1585.6 767.4 1588.6 758.7C1589.7 755.4 1590.9 753.9 1592 744.3C1592.9 736.7 1593.8 723 1594.7 705C1594.9 701.7 1595 696.5 1595.2 694.5C1596.1 684 1596.9 678.8 1597.8 678.8C1599.1 678.8 1600.4 687.3 1601.7 691.9C1603.2 697.2 1604.7 708.9 1606.2 708.9C1608.6 708.9 1611.1 708 1613.5 706.3C1615.4 704.9 1617.4 701.2 1619.3 698.4C1620.7 696.3 1622.1 691.9 1623.5 691.9C1624.5 691.9 1625.6 699.5 1626.6 705C1627.4 709.3 1628.2 716.3 1629 720C1629.8 723.8 1630.7 727.3 1631.5 727.3C1632.3 727.3 1633.1 723.3 1633.9 715.4C1635 704.8 1636 660 1637.1 642.1C1638.4 620.2 1639.7 614.9 1641 605.5C1642.3 596.1 1643.6 589.8 1644.9 585.8C1646 582.3 1647.2 580.6 1648.3 580.6C1650.2 580.6 1652.2 581.9 1654.1 584.5C1655.4 586.2 1656.7 587.1 1658 592.4C1658.9 595.9 1659.7 606.9 1660.6 615.9C1661.5 625.2 1662.4 639.2 1663.3 647.4C1664.6 659.2 1665.9 662.5 1667.2 668.3C1669.8 679.9 1672.4 681.1 1675 689.3C1676.8 694.9 1678.5 698.4 1680.3 707.6C1681.2 712.1 1682 715 1682.9 723.3C1683.8 731.6 1684.6 743 1685.5 757.4C1686.4 771.8 1687.2 795.9 1688.1 809.7C1689 824.1 1689.9 838.8 1690.8 841.2C1692.1 844.7 1693.4 845.7 1694.7 846.4C1696.4 847.3 1698.2 847.7 1699.9 847.7C1700.6 847.7 1701.3 843.8 1702 835.9C1702.4 831 1702.9 777 1703.3 757.4C1703.7 737.8 1704.2 727.6 1704.6 718.1C1705.1 707.9 1705.5 704.5 1706 700C1706.7 693.6 1707.3 691.8 1708 690 L1708 949 L165.5 949 Z"/><clipPath id="fc"><use href="#rf"/></clipPath></defs>
<use href="#rf" fill="url(#rg)"/>
<g clip-path="url(#fc)" fill="#1a3a5a" opacity="0.07">
<rect x="160" y="615.1" width="1546" height="2" />
<rect x="160" y="725.7" width="1546" height="2" />
<rect x="160" y="836.3" width="1546" height="2" />
</g>
<path d="M165.5 873.2C168.2 873.2 171 873.2 173.7 873.2C175.7 873.2 177.6 871.2 179.6 867.3C180.8 865 181.9 862.6 183.1 853.3C183.9 847.2 184.6 815.7 185.4 797C186.2 777.4 187 749 187.8 738.4C188.6 728.3 189.3 723.2 190.1 723.2C190.9 723.2 191.7 725.2 192.5 729.1C193.7 734.8 194.8 752.4 196 761.9C197.6 774.6 199.1 784.1 200.7 792.3C203 804.5 205.4 806.4 207.7 815.8C210 825.2 212.4 833.8 214.7 848.6C216.3 858.5 217.8 869.5 219.4 883.7C220.3 892.2 221.3 905.4 222.2 911.8C223.2 918.9 224.3 921.4 225.3 922.4C227.6 924.7 230 925.9 232.3 925.9C236.2 925.9 240.1 925.9 244 925.9C246.4 925.9 248.7 922.3 251.1 920C253.2 917.9 255.3 913 257.4 913C260.4 913 263.3 917.7 266.3 917.7C268.9 917.7 271.4 908.3 274 908.3C276.9 908.3 279.8 920.9 282.7 921.2C285.8 921.5 289 921.4 292.1 921.7C294.8 922 297.6 925.9 300.3 925.9C303 925.9 305.8 925.9 308.5 925.9C311.1 925.9 313.6 913 316.2 913C319.1 913 322 925.9 324.9 925.9C327.8 925.9 330.6 903.6 333.5 903.6C336.1 903.6 338.7 925.9 341.3 925.9C344.2 925.9 347.1 925.9 350 925.9C366.7 925.9 383.3 925.9 400 925.9C420 925.9 440 925.9 460 925.9C463.2 925.9 466.3 925.9 469.5 925.9C470.3 925.9 471.2 920.4 472 916C472.8 911.6 473.7 903.2 474.5 899.5C475.2 896.2 476 893.8 476.7 893.8C477.5 893.8 478.2 896.1 479 899.5C479.7 902.5 480.3 908.7 481 912C481.8 916.2 482.7 920.3 483.5 920.5C487 921.3 490.6 920.9 494.1 921.7C496.8 922.3 499.6 925.9 502.3 925.9C504.2 925.9 506.2 924.3 508.1 921.2C509.3 919.3 510.4 918.1 511.6 911.8C512.4 907.5 513.2 891.8 514 879C514.8 866.7 515.5 846.6 516.3 836.9C517.1 826.7 517.9 820.4 518.7 820.4C519.9 820.4 521 823.5 522.2 825.1C524 827.6 525.8 833.3 527.6 833.3C528.9 833.3 530.3 823.8 531.6 818.1C533 812.1 534.4 798.2 535.8 798.2C537.5 798.2 539.2 802.9 540.9 806.4C543.3 811.2 545.6 820.1 548 825.1C549.5 828.3 551.1 833.3 552.6 833.3C553.8 833.3 555 831.4 556.2 827.5C557.4 823.7 558.5 814.9 559.7 804C560.9 793.1 562 775.2 563.2 761.9C564.4 748.6 565.5 736.2 566.7 724C567.9 711.8 569 699 570.2 688.9C572.5 668.6 574.9 664.5 577.2 646.7C578.4 637.5 579.6 629.1 580.8 616.2C581.6 608 582.3 594.7 583.1 588.1C583.9 581.6 584.6 577 585.4 576.9C588.5 576.6 591.7 576.7 594.8 576.4C596 576.3 597.1 569 598.3 564.7C599.5 560.3 600.7 550.2 601.9 550.1C605 549.8 608.1 549.7 611.2 549.7C613.2 549.7 615.1 551.2 617.1 554.1C618.3 555.8 619.4 556.8 620.6 562.3C621.8 567.8 622.9 580.5 624.1 590.4C624.9 597.2 625.7 606.2 626.5 611.5C627.1 615.5 627.7 620.4 628.3 620.4C629 620.4 629.7 616.7 630.4 611.5C631.4 603.8 632.5 585.4 633.5 574C634.3 565.6 635 551.4 635.8 550.6C636.6 549.8 637.4 549.4 638.2 549.4C643.7 549.4 649.1 549.4 654.6 549.4C655.9 549.4 657.3 554.1 658.6 556.5C659.8 558.7 661.1 563 662.3 563C663.6 563 665 558.7 666.3 556.5C667.6 554.3 669 549.7 670.3 549.7C676 549.7 681.7 549.7 687.4 549.7C688.6 549.7 689.7 558.4 690.9 562.3C692.5 567.5 694 576.4 695.6 576.4C696.8 576.4 697.9 570.2 699.1 567C700.7 562.8 702.2 556.1 703.8 554.1C706.1 551.2 708.5 549.7 710.8 549.7C712.8 549.7 714.7 550 716.7 550.6C718.3 551.1 719.8 552.2 721.4 555.3C722.6 557.6 723.7 565.7 724.9 571.7C725.9 576.8 726.9 584.1 727.9 588.1C728.5 590.6 729.2 594 729.8 594C730.7 594 731.7 588.8 732.6 585.8C734.3 580.3 736.1 571.8 737.8 567C740.1 560.5 742.5 558.1 744.8 555.3C747.5 552 750.3 549.7 753 549.7C762 549.7 771 549.7 780 549.7C791.7 549.7 803.4 549.7 815.1 549.7C816.3 549.7 817.4 553.2 818.6 555.3C819.8 557.4 820.9 562.3 822.1 562.3C824.5 562.3 826.8 561.2 829.2 559.5C831.9 557.5 834.7 552 837.4 550.6C838.6 550 839.7 549.7 840.9 549.7C846.4 549.7 851.8 549.7 857.3 549.7C858.5 549.7 859.6 557.1 860.8 560C862 562.9 863.1 567 864.3 567C865.5 567 866.6 562.4 867.8 560C869.4 556.8 870.9 550.1 872.5 550.1C874 550.1 875.5 551.6 877 553C878.6 554.5 880.1 558.8 881.7 558.8C884.4 558.8 887.2 554.1 889.9 554.1C891.1 554.1 892.2 560.7 893.4 564.7C895 570.1 896.5 576.8 898.1 583.4C899.7 590 901.2 598.4 902.8 604.5C904 609.1 905.1 616.7 906.3 616.7C907.5 616.7 908.6 614.5 909.8 612.7C911.4 610.3 912.9 602.9 914.5 602.9C917.6 602.9 920.8 602.9 923.9 602.9C925.1 602.9 926.2 611.6 927.4 616.2C928.8 621.8 930.2 633.8 931.6 633.8C932.5 633.8 933.5 629.5 934.4 620.9C935.2 613.5 936 590.1 936.8 578.7C937.6 567.7 938.3 556.2 939.1 553C939.7 550.6 940.2 549.4 940.8 549.4C941.8 549.4 942.8 553.8 943.8 556.5C945.4 560.7 946.9 570.1 948.5 571.7C951.2 574.5 954 574.4 956.7 575.9C959.4 577.4 962.2 580.6 964.9 580.6C966.1 580.6 967.2 578.4 968.4 574C969.6 569.6 970.7 558.1 971.9 554.1C972.7 551.4 973.5 549.7 974.3 549.7C979.5 549.7 984.8 549.7 990 549.7C996.1 549.7 1002.2 549.7 1008.3 549.7C1009.1 549.7 1009.8 552.5 1010.6 555.3C1012.2 560.9 1013.7 575.5 1015.3 583.4C1017.2 593.1 1019.2 600.5 1021.1 605.7C1022.1 608.5 1023.2 612.2 1024.2 612.2C1025 612.2 1025.7 610.2 1026.5 606.8C1027.8 600.8 1029.2 581.9 1030.5 574C1031.7 567 1032.8 563.6 1034 560C1035.6 555.1 1037.1 552 1038.7 551.1C1040.7 550 1042.6 549.4 1044.6 549.4C1047.3 549.4 1050.1 549.8 1052.8 550.6C1054.7 551.2 1056.7 552.2 1058.6 555.3C1060.2 557.8 1061.7 567 1063.3 571.7C1064.5 575.2 1065.6 581.1 1066.8 581.1C1068 581.1 1069.2 576.5 1070.4 571.7C1071.6 567 1072.7 556.3 1073.9 553C1074.7 550.8 1075.4 549.7 1076.2 549.7C1082.1 549.7 1087.9 549.7 1093.8 549.7C1095 549.7 1096.1 556.3 1097.3 560C1098.5 563.7 1099.6 571.7 1100.8 571.7C1102 571.7 1103.1 568 1104.3 565.8C1105.9 562.8 1107.4 557.9 1109 555.3C1111 552.1 1112.9 550.6 1114.9 550.1C1116.8 549.6 1118.8 549.4 1120.7 549.4C1140.5 549.4 1160.2 549.4 1180 549.4C1198.9 549.4 1217.8 549.4 1236.7 549.4C1239.1 549.4 1241.4 556 1243.8 558.1C1246.5 560.5 1249.3 559.9 1252 562.3C1254.7 564.6 1257.5 572.2 1260.2 572.2C1261.4 572.2 1262.7 569 1263.9 566.2C1265.7 562.2 1267.4 549.2 1269.2 549.2C1270.5 549.2 1271.8 558.1 1273.1 563.6C1274.6 569.8 1276 585 1277.5 585C1278.6 585 1279.8 578.2 1280.9 574C1282.2 569.1 1283.6 560.3 1284.9 557C1286.6 552.7 1288.4 551.2 1290.1 550.5C1291.9 549.8 1293.6 549.4 1295.4 549.4C1301.9 549.4 1308.5 549.4 1315 549.4C1322.4 549.4 1329.8 549.4 1337.2 549.4C1338.5 549.4 1339.9 556.1 1341.2 559.6C1342.9 564.2 1344.7 570 1346.4 574C1348.6 579.1 1350.8 585.3 1353 585.3C1354.7 585.3 1356.5 581 1358.2 579.3C1359.5 578 1360.8 576.1 1362.1 576.1C1363.4 576.1 1364.8 582.9 1366.1 585.8C1367.6 589 1369 594.5 1370.5 594.5C1372.5 594.5 1374.5 592.9 1376.5 589.7C1377.8 587.6 1379.2 584.2 1380.5 579.3C1381.8 574.5 1383.1 565.3 1384.4 560.9C1385.3 558 1386.1 554.4 1387 554.4C1389.6 554.4 1392.3 556.9 1394.9 558.3C1397.8 559.8 1400.6 563 1403.5 563C1405.4 563 1407.4 558.8 1409.3 557C1410.3 556.1 1411.4 554.4 1412.4 554.4C1413.1 554.4 1413.8 556.6 1414.5 560.9C1415.2 565.2 1415.9 580.3 1416.6 589.7C1417.5 601.4 1418.3 619.8 1419.2 623.8C1420.7 630.8 1422.2 631.8 1423.7 634.3C1425.4 637.1 1427.2 638.7 1428.9 638.7C1432 638.7 1435 635.5 1438.1 633.7C1440.7 632.2 1443.3 629 1445.9 629C1446.6 629 1447.3 635.8 1448 642.1C1449.1 651.7 1450.1 673.5 1451.2 684C1452.2 694.2 1453.3 705 1454.3 705C1455.4 705 1456.6 699.2 1457.7 691.9C1459 683.5 1460.3 666.9 1461.6 655.2C1463.4 639.3 1465.1 622.7 1466.9 610.7C1467.8 604.8 1468.6 598.5 1469.5 595C1470.2 592.1 1470.9 589.7 1471.6 589.7C1472.6 589.7 1473.7 594.9 1474.7 597.6C1476.5 602.2 1478.2 608.3 1480 612C1482.6 617.4 1485.2 621.2 1487.8 621.2C1489.1 621.2 1490.4 616 1491.7 613.3C1493.3 609.9 1494.9 602.8 1496.5 602.8C1498 602.8 1499.4 606.2 1500.9 608.1C1502.2 609.8 1503.5 613.3 1504.8 613.3C1506.1 613.3 1507.5 609.7 1508.8 608.1C1510.4 606.2 1511.9 602.8 1513.5 602.8C1515 602.8 1516.4 605.2 1517.9 608.1C1519.7 611.6 1521.4 613.4 1523.2 623.8C1524.5 631.5 1525.8 644.1 1527.1 655.2C1528.1 664 1529.2 682.7 1530.2 682.7C1531.3 682.7 1532.5 678.2 1533.6 673.5C1535.4 666.2 1537.1 650.5 1538.9 639.5C1540.6 628.7 1542.4 615.4 1544.1 608.1C1545.2 603.6 1546.2 598.1 1547.3 598.1C1547.8 598.1 1548.3 601.4 1548.8 608.1C1549.4 616.5 1550.1 646.9 1550.7 668.3C1551.4 692 1552.1 723.3 1552.8 744.3C1553.4 762.3 1554 781 1554.6 788.8C1555 794.4 1555.5 797.2 1555.9 797.2C1556.8 797.2 1557.6 793.6 1558.5 791.4C1560.3 787 1562 775.2 1563.8 775.2C1566.4 775.2 1569 780.4 1571.6 780.4C1574.2 780.4 1576.9 775.1 1579.5 771.8C1582.5 768 1585.6 767.4 1588.6 758.7C1589.7 755.4 1590.9 753.9 1592 744.3C1592.9 736.7 1593.8 723 1594.7 705C1594.9 701.7 1595 696.5 1595.2 694.5C1596.1 684 1596.9 678.8 1597.8 678.8C1599.1 678.8 1600.4 687.3 1601.7 691.9C1603.2 697.2 1604.7 708.9 1606.2 708.9C1608.6 708.9 1611.1 708 1613.5 706.3C1615.4 704.9 1617.4 701.2 1619.3 698.4C1620.7 696.3 1622.1 691.9 1623.5 691.9C1624.5 691.9 1625.6 699.5 1626.6 705C1627.4 709.3 1628.2 716.3 1629 720C1629.8 723.8 1630.7 727.3 1631.5 727.3C1632.3 727.3 1633.1 723.3 1633.9 715.4C1635 704.8 1636 660 1637.1 642.1C1638.4 620.2 1639.7 614.9 1641 605.5C1642.3 596.1 1643.6 589.8 1644.9 585.8C1646 582.3 1647.2 580.6 1648.3 580.6C1650.2 580.6 1652.2 581.9 1654.1 584.5C1655.4 586.2 1656.7 587.1 1658 592.4C1658.9 595.9 1659.7 606.9 1660.6 615.9C1661.5 625.2 1662.4 639.2 1663.3 647.4C1664.6 659.2 1665.9 662.5 1667.2 668.3C1669.8 679.9 1672.4 681.1 1675 689.3C1676.8 694.9 1678.5 698.4 1680.3 707.6C1681.2 712.1 1682 715 1682.9 723.3C1683.8 731.6 1684.6 743 1685.5 757.4C1686.4 771.8 1687.2 795.9 1688.1 809.7C1689 824.1 1689.9 838.8 1690.8 841.2C1692.1 844.7 1693.4 845.7 1694.7 846.4C1696.4 847.3 1698.2 847.7 1699.9 847.7C1700.6 847.7 1701.3 843.8 1702 835.9C1702.4 831 1702.9 777 1703.3 757.4C1703.7 737.8 1704.2 727.6 1704.6 718.1C1705.1 707.9 1705.5 704.5 1706 700C1706.7 693.6 1707.3 691.8 1708 690" fill="none" stroke="#8cc1e1" stroke-width="4" stroke-linejoin="round" stroke-linecap="butt"/>
<path d="M163 846C164.2 844.9 165.5 843.8 166.7 842.7C168.7 840.9 170.6 836.9 172.6 836.9C175.3 836.9 178.1 837.3 180.8 837.3C182.7 837.3 184.7 826.4 186.6 824C188.6 821.6 190.5 820.4 192.5 820.4C194.4 820.4 196.4 827.5 198.3 827.5C201 827.5 203.8 813.5 206.5 808.7C209.6 803.2 212.8 805.2 215.9 798.2C217.5 794.7 219 784.2 220.6 780.6C221.8 777.9 222.9 776.4 224.1 776.4C225.3 776.4 226.4 781.7 227.6 785.3C229.2 790.1 230.7 802.9 232.3 802.9C234.6 802.9 237 802.9 239.3 802.9C241.7 802.9 244 794.2 246.4 790C249.5 784.4 252.7 778.1 255.8 773.6C258.9 769.1 262 765.7 265.1 763C268.2 760.3 271.4 757.6 274.5 757.6C276.8 757.6 279.2 758.4 281.5 758.4C283.1 758.4 284.6 751.3 286.2 747.8C287.8 744.3 289.3 737.3 290.9 737.3C292.1 737.3 293.2 739.8 294.4 741.9C295.6 744 296.7 749.5 297.9 750.1C300.3 751.4 302.6 752 305 752C307.3 752 309.7 750.1 312 750.1C314.3 750.1 316.7 752.3 319 753.7C321.3 755.1 323.7 758.4 326 758.4C328.4 758.4 330.7 758.1 333.1 757.6C336.2 757 339.3 754.8 342.4 754.8C345.5 754.8 348.7 756.6 351.8 758.4C354.9 760.2 358.1 762.5 361.2 765.4C364.3 768.3 367.5 771 370.6 775.9C373.7 780.8 376.8 787.7 379.9 794.7C383 801.8 386.2 809.7 389.3 818.1C391.3 823.3 393.2 830.3 395.2 834.5C397.1 838.7 399.1 843.4 401 843.4C403.4 843.4 405.7 839.2 408.1 839.2C410 839.2 412 846.2 413.9 849.7C415.9 853.2 417.8 860.3 419.8 860.3C421.7 860.3 423.7 848.6 425.6 848.6C427.6 848.6 429.5 860.2 431.5 865C433.8 870.7 436.2 874.9 438.5 879C440.8 883.1 443.2 887.2 445.5 889.6C447.5 891.6 449.4 893.1 451.4 893.1C453.4 893.1 455.3 883.6 457.3 876.7C459.6 868.5 462 854.9 464.3 846.2C466.3 838.9 468.2 832.3 470.2 827.5C472.9 820.8 475.7 819.5 478.4 815.8C480.9 812.5 483.4 811.8 485.9 806.4C487.8 802.3 489.8 793.1 491.7 790C493.7 786.9 495.6 785.3 497.6 785.3C499.2 785.3 500.7 791.7 502.3 791.9C505 792.2 507.8 792.3 510.5 792.3C512.8 792.3 515.2 789.7 517.5 787.6C520.6 784.8 523.8 776.4 526.9 776.4C529.6 776.4 532.4 789.5 535.1 789.5C537.4 789.5 539.8 784.6 542.1 781.8C544.8 778.6 547.6 771.4 550.3 771.2C554.2 770.9 558.1 771.1 562 770.8C565.9 770.5 569.8 766.6 573.7 761.9C575.9 759.3 578.1 755.1 580.3 752.3C582.4 749.6 584.6 749.5 586.7 745.5C587.7 743.7 588.6 741.6 589.6 739C590.4 736.8 591.2 733.3 592 731.5C593.7 727.5 595.5 725.5 597.2 725.5C598.8 725.5 600.3 725.5 601.9 725.5C604.6 725.5 607.4 719.7 610.1 719.7C613.6 719.7 617.1 720.1 620.6 720.9C622.9 721.4 625.3 722.1 627.6 724.4C628.8 725.6 629.9 733.5 631.1 738.4C632.7 745 634.2 754.1 635.8 759.5C637.8 766.3 639.7 768.4 641.7 772.4C644 777.1 646.4 781.6 648.7 785.3C651.1 789.1 653.4 794.7 655.8 794.7C658.9 794.7 662 794.7 665.1 794.7C667.5 794.7 669.8 790 672.2 790C675.3 790 678.4 792.3 681.5 792.3C684.6 792.3 687.8 790.1 690.9 787.6C693.2 785.8 695.6 780.6 697.9 780.6C699.5 780.6 701 788.4 702.6 788.8C705.7 789.6 708.9 790 712 790C714.3 790 716.7 783 719 783C720.6 783 722.1 783.4 723.7 784.1C726 785.2 728.4 789.3 730.7 791.2C733.1 793.2 735.4 795.8 737.8 795.8C740.9 795.8 744 791.2 747.1 791.2C749.5 791.2 751.8 805.2 754.2 805.2C756.5 805.2 758.9 805.2 761.2 805.2C764.3 805.2 767.5 801.7 770.6 801.7C773.7 801.7 776.8 802.1 779.9 802.9C782.6 803.6 785.4 811.5 788.1 811.5C790.8 811.5 793.6 805.3 796.3 804C799.4 802.5 802.6 803.2 805.7 801.7C808.4 800.4 811.2 795.8 813.9 795.8C817 795.8 820.2 800.5 823.3 800.5C825.3 800.5 827.2 794.7 829.2 794.7C830.7 794.7 832.3 797.7 833.8 801.7C835.8 806.8 837.7 818 839.7 825.1C841.6 832.1 843.6 839 845.5 843.9C847.5 848.8 849.4 853.6 851.4 854.4C853.4 855.2 855.3 855.6 857.3 855.6C860.4 855.6 863.5 852.5 866.6 846.2C867.7 843.9 868.9 839.5 870 836.9C872 832.3 873.9 829.8 875.9 827.5C877.8 825.3 879.8 823.3 881.7 823.3C884 823.3 886.4 828 888.7 828C891.1 828 893.4 819.9 895.8 818.1C898.9 815.8 902 814.6 905.1 814.6C907.9 814.6 910.6 815.8 913.4 815.8C915.7 815.8 918.1 801.7 920.4 801.7C922.3 801.7 924.3 802.1 926.2 802.9C928.2 803.7 930.1 812.4 932.1 815.8C934.8 820.5 937.6 824.7 940.3 824.7C942.6 824.7 945 820.5 947.3 818.1C950 815.3 952.8 811.3 955.5 808.7C959 805.4 962.6 803.5 966.1 801.7C969.2 800.1 972.3 800.5 975.4 798.2C977.8 796.4 980.1 789.5 982.5 789.5C984.8 789.5 987.2 794.3 989.5 794.7C993.4 795.4 997.3 795.8 1001.2 795.8C1004.3 795.8 1007.5 794.4 1010.6 793.5C1014.5 792.4 1018.4 791.9 1022.3 789.5C1025.4 787.6 1028.6 781.8 1031.7 781.8C1032.9 781.8 1034 784 1035.2 787.6C1036.8 792.4 1038.3 807.2 1039.9 811.1C1041.5 815 1043 816.9 1044.6 816.9C1048.1 816.9 1051.6 816.9 1055.1 816.9C1057.4 816.9 1059.8 819.3 1062.1 819.3C1064.5 819.3 1066.8 818.1 1069.2 815.8C1071.5 813.5 1073.9 808.5 1076.2 804C1078.2 800.2 1080.1 793.1 1082.1 791.2C1084.8 788.5 1087.6 789.9 1090.3 787.2C1092.6 784.9 1095 777.2 1097.3 773.6C1099.6 770 1102 765.4 1104.3 765.4C1107.4 765.4 1110.6 767 1113.7 767C1116.8 767 1120 766.5 1123.1 765.4C1126.2 764.4 1129.3 760.7 1132.4 760.7C1135.5 760.7 1138.7 767 1141.8 767C1144.5 767 1147.3 758.4 1150 758.4C1153.5 758.4 1157.1 759.5 1160.6 759.5C1163.3 759.5 1166.1 756.7 1168.8 756.7C1171.5 756.7 1174.3 756.7 1177 756.7C1180.1 756.7 1183.2 756.9 1186.3 757.2C1188.3 757.4 1190.2 763.6 1192.2 765.4C1195.7 768.5 1199.2 767.4 1202.7 770.1C1205.1 771.9 1207.4 777.1 1209.8 777.1C1212.1 777.1 1214.5 773.1 1216.8 773.1C1219.1 773.1 1221.5 778.6 1223.8 780.6C1226.5 782.9 1229.3 782.2 1232 785.3C1234 787.6 1235.9 788.4 1237.9 794.7C1239.5 799.7 1241 810.7 1242.6 815.8C1244.2 820.9 1245.7 823 1247.3 825.1C1249.6 828.2 1252 826.7 1254.3 829.8C1255.5 831.4 1256.6 839.9 1257.8 841.5C1259 843.1 1260.1 843.9 1261.3 843.9C1262.9 843.9 1264.4 841.6 1266 839.2C1268.4 835.6 1270.7 826.6 1273.1 822.8C1275.7 818.6 1278.3 818.4 1280.9 816.3C1284.4 813.5 1287.9 811.7 1291.4 808.4C1294.5 805.5 1297.5 798 1300.6 798C1304.5 798 1308.5 798 1312.4 798C1316.3 798 1320.3 794 1324.2 794C1328.1 794 1332 794 1335.9 794C1339 794 1342 805 1345.1 805C1347.3 805 1349.5 798 1351.7 798C1354.7 798 1357.8 803.1 1360.8 804C1364.7 805.2 1368.7 805.8 1372.6 805.8C1375.2 805.8 1377.9 804.9 1380.5 803.2C1382.7 801.8 1384.8 795.3 1387 795.3C1389.6 795.3 1392.3 801.4 1394.9 801.4C1398.8 801.4 1402.7 801.4 1406.6 801.4C1410.1 801.4 1413.6 806.6 1417.1 808.4C1420.6 810.2 1424.1 812.4 1427.6 812.4C1429.8 812.4 1431.9 805.8 1434.1 805.8C1435.9 805.8 1437.6 806.7 1439.4 808.4C1441.1 810.1 1442.9 820.8 1444.6 825.5C1447.7 833.8 1450.7 836.8 1453.8 841.2C1457.3 846.2 1460.8 853 1464.3 853C1467.8 853 1471.2 843.8 1474.7 843.8C1477.3 843.8 1480 843.8 1482.6 843.8C1485.2 843.8 1487.8 854.3 1490.4 854.3C1493.5 854.3 1496.5 853.9 1499.6 853C1501.8 852.4 1504 847.7 1506.2 847.7C1508.8 847.7 1511.4 849 1514 849C1518.4 849 1522.7 837.9 1527.1 834.6C1530.6 831.9 1534.1 829.4 1537.6 829.4C1540.6 829.4 1543.7 839.9 1546.7 839.9C1549.8 839.9 1552.8 828.1 1555.9 828.1C1559.8 828.1 1563.8 828.1 1567.7 828.1C1570.8 828.1 1573.8 821.5 1576.9 821.5C1580.8 821.5 1584.7 822.8 1588.6 825.5C1591.2 827.3 1593.9 845.5 1596.5 847.7C1599.6 850.3 1602.6 849.6 1605.7 851.6C1608.7 853.6 1611.8 859.5 1614.8 859.5C1618.7 859.5 1622.7 854.7 1626.6 853C1629.2 851.9 1631.9 852.1 1634.5 850.3C1635.5 849.6 1636.6 840 1637.6 836C1638.3 833.4 1638.9 829.3 1639.6 829.3C1640.3 829.3 1641.1 832.1 1641.8 836C1642.8 841.5 1643.9 854.5 1644.9 862.1C1646.2 871.9 1647.6 883.8 1648.9 885.7C1651.1 888.8 1653.2 887.5 1655.4 890.3C1656.9 892.3 1658.5 896.2 1660 898C1661.7 900 1663.3 901.4 1665 901.4C1666.7 901.4 1668.3 897.3 1670 893C1672.6 886.3 1675.1 871.4 1677.7 862.1C1679.4 855.8 1681.2 845.3 1682.9 844.5C1686 843.2 1689 843.8 1692.1 842.5C1694.7 841.4 1697.3 838.6 1699.9 830.7C1701.5 826 1703 814.7 1704.6 804.5C1705.7 797.1 1706.9 788.6 1708 780" fill="none" stroke="#3f607d" stroke-width="4.2" stroke-linejoin="round" stroke-linecap="round"/>
<path d="M165.5 642.5C168.2 633.4 171 624.4 173.7 616.2C176.1 609.1 178.4 601.1 180.8 596.3C182.7 592.4 184.7 589.9 186.6 588.1C188.6 586.2 190.5 585.3 192.5 585.3C195.6 585.3 198.8 585.6 201.9 586.2C203.8 586.6 205.8 587.6 207.7 587.6C209.3 587.6 210.8 586.9 212.4 586.9C214 586.9 215.5 588.6 217.1 591.6C219 595.3 221 603.1 222.9 609.2C226 619.1 229.2 631.8 232.3 640.8C235.4 649.8 238.6 655.4 241.7 663.1C245.6 672.7 249.5 683.6 253.4 693.5C255.7 699.4 258.1 705.4 260.4 711C262.8 716.7 265.1 722.8 267.5 727.5C272.2 736.7 276.8 741 281.5 745.5C284.6 748.5 287.8 750.1 290.9 752.5C295.6 756.2 300.3 760.2 305 764.2C309.7 768.2 314.3 772.9 319 776.4C323.7 779.9 328.4 782 333.1 785.3C336.2 787.5 339.3 790.3 342.4 792.3C344.4 793.6 346.3 795.8 348.3 795.8C349.9 795.8 351.4 793.7 353 791.2C354.6 788.7 356.1 785.5 357.7 780.6C359.3 775.7 360.8 768.9 362.4 761.9C364 754.9 365.5 746.3 367.1 738.4C368.6 730.7 370.2 722.4 371.7 715C373.7 705.6 375.6 696.9 377.6 688.9C379.9 679.4 382.3 671.1 384.6 663.1C387.3 653.7 390.1 643.8 392.8 637.3C395.5 630.8 398.3 627.8 401 624.4C403.4 621.4 405.7 619 408.1 617.4C410.4 615.8 412.8 614.6 415.1 614.6C416.5 614.6 417.9 616.2 419.3 618.6C421.8 622.9 424.3 634.9 426.8 642C429.5 649.8 432.3 658.2 435 663.1C437.7 668 440.5 667.8 443.2 671.3C445.9 674.8 448.7 680.3 451.4 684.2C454.1 688.1 456.9 690.2 459.6 694.7C462.3 699.2 465.1 706.8 467.8 711.1C471.3 716.6 474.9 717.2 478.4 721.5C481.3 725 484.1 730.5 487 733.7C491.7 738.9 496.4 738.2 501.1 741.9C505.8 745.6 510.4 752.3 515.1 756C519 759.1 523 760.5 526.9 763C530 765 533.1 767.9 536.2 769.4C540.1 771.4 544.1 772.4 548 772.4C550.3 772.4 552.7 771.2 555 768.9C556.9 767 558.9 761.4 560.8 756C562.8 750.5 564.7 743.5 566.7 736.1C567.9 731.7 569 727.5 570.2 722C571.4 716.5 572.5 708.5 573.7 702.9C575.3 695.3 576.8 689.1 578.4 684.2C581.1 675.7 583.9 674.8 586.6 671.3C590.1 666.8 593.7 664.2 597.2 661.9C599.5 660.4 601.9 658.4 604.2 658.4C606.5 658.4 608.9 658.4 611.2 658.4C613.6 658.4 615.9 659 618.3 660.3C619.5 660.9 620.6 664 621.8 666.6C623.7 670.8 625.7 678.3 627.6 683C630 688.8 632.3 693.4 634.7 697.1C636.2 699.5 637.8 701.5 639.3 702.9C641.3 704.7 643.2 704.5 645.2 705.7C647.9 707.3 650.7 711.8 653.4 711.8C656.1 711.8 658.9 711.8 661.6 711.8C664.3 711.8 667.1 712.4 669.8 713.5C672.9 714.8 676.1 722.3 679.2 722.3C681.7 722.3 684.3 718.4 686.8 718.4C692.1 718.4 697.3 718.4 702.6 718.4C706.5 718.4 710.4 721.4 714.3 722.6C719 724.1 723.7 724.3 728.4 726.2C731.5 727.5 734.7 730.7 737.8 730.9C742.5 731.2 747.1 731.4 751.8 731.4C754.5 731.4 757.3 729.8 760 726.7C762.3 724 764.7 720.3 767 714C769 708.7 770.9 700.5 772.9 693.5C775.2 685.2 777.6 674.4 779.9 667.8C783 658.9 786.2 657.6 789.3 651.4C792.4 645.1 795.6 635.3 798.7 630.3C801.4 626 804.2 624.1 806.9 622.1C809.6 620.1 812.4 619.7 815.1 618.1C816.7 617.2 818.2 615.1 819.8 615.1C821 615.1 822.1 615.9 823.3 617.4C825.3 620 827.2 631.1 829.2 637.3C832.3 647 835.4 656.1 838.5 663.1C841.6 670.2 844.8 673.9 847.9 679.5C850.2 683.7 852.6 689.2 854.9 692.4C858 696.7 861.2 697.2 864.3 699.4C867.4 701.6 870.6 704.7 873.7 705.7C874.8 706.1 875.9 706.2 877 706.4C881.3 707.4 885.6 710 889.9 710C895 710 900 709.5 905.1 709.5C909 709.5 913 715.6 916.9 718.2C919.2 719.7 921.6 721.1 923.9 722.5C929.4 725.7 934.8 730.9 940.3 730.9C944.6 730.9 948.9 730.7 953.2 730.2C955.9 729.9 958.7 728.3 961.4 724.4C963 722.2 964.5 719.3 966.1 715.8C968.4 710.6 970.8 703.2 973.1 695.9C976.2 686.1 979.4 671.7 982.5 663.1C985.6 654.5 988.8 650.6 991.9 644.3C994.6 638.8 997.4 632 1000.1 627.9C1002.8 623.8 1005.6 621.7 1008.3 619.7C1010.6 618 1013 616.2 1015.3 616.2C1017.2 616.2 1019.2 618.4 1021.1 620.9C1023.1 623.5 1025 627.3 1027 631.5C1029.3 636.4 1031.7 644.1 1034 649C1036.4 653.9 1038.7 656.5 1041.1 660.8C1044.2 666.4 1047.3 674.8 1050.4 679.5C1053.5 684.2 1056.7 685.8 1059.8 688.9C1062.1 691.2 1064.5 694.2 1066.8 695.9C1069.5 697.9 1072.3 697.1 1075 699.4C1077.7 701.7 1080.5 707.6 1083.2 710C1085.9 712.4 1088.7 713.9 1091.4 713.9C1094.1 713.9 1096.9 711.9 1099.6 710.4C1102.7 708.7 1105.9 705.4 1109 704.1C1111.3 703.1 1113.7 703.5 1116 702.5C1119.5 701 1123.1 696.2 1126.6 694.7C1130.9 692.8 1135.2 692.9 1139.5 691.9C1143.4 691 1147.3 690.4 1151.2 688.9C1154.3 687.7 1157.5 687.3 1160.6 684.2C1163.3 681.5 1166.1 678.4 1168.8 672.5C1171.5 666.6 1174.3 657 1177 649C1179.7 641 1182.5 630.4 1185.2 624.4C1187.9 618.4 1190.7 617.2 1193.4 612.7C1196.5 607.6 1199.6 600.7 1202.7 595.1C1205.4 590.2 1208.2 584.4 1210.9 581.1C1213.6 577.8 1216.4 575.2 1219.1 575.2C1221.5 575.2 1223.8 576 1226.2 577.6C1228.1 578.9 1230.1 585.6 1232 590.4C1234 595.3 1235.9 601.7 1237.9 606.8C1239.9 611.9 1241.8 617.3 1243.8 620.9C1246.5 625.8 1249.3 627.2 1252 629.1C1254.3 630.7 1256.7 630.1 1259 632.2C1260.6 633.6 1262.1 640.8 1263.7 644.3C1266 649.4 1268.2 653.6 1270.5 656.5C1273.1 659.8 1275.7 660.1 1278.3 661.8C1280.9 663.6 1283.6 666.1 1286.2 667C1288.8 667.9 1291.4 667.5 1294 668.3C1297.1 669.3 1300.1 671.9 1303.2 673C1306.3 674.1 1309.3 673.6 1312.4 674.8C1315.4 676 1318.5 678.6 1321.5 680.1C1323.9 681.2 1326.2 683 1328.6 683C1331 683 1333.5 680.9 1335.9 680.9C1338.5 680.9 1341.2 685.3 1343.8 686.6C1346.4 687.9 1349.1 688.2 1351.7 688.7C1354.3 689.2 1356.9 689.8 1359.5 689.8C1361.7 689.8 1363.9 688.4 1366.1 686.1C1367.8 684.3 1369.6 682.6 1371.3 678.8C1373.5 674 1375.6 663.9 1377.8 657.8C1380.4 650.4 1383.1 646.1 1385.7 639.5C1388.3 633 1391 625.4 1393.6 618.5C1396.6 610.5 1399.7 601.3 1402.7 595C1405.3 589.5 1408 585 1410.6 581.9C1412.8 579.3 1414.9 577.6 1417.1 576.7C1419.3 575.8 1421.5 575.3 1423.7 575.3C1425.4 575.3 1427.2 575.8 1428.9 576.7C1430.6 577.6 1432.4 583.3 1434.1 587.1C1436.3 591.9 1438.5 597.5 1440.7 602.8C1442.9 608 1445 614.5 1447.2 618.5C1449.8 623.4 1452.5 625.2 1455.1 627.7C1458.2 630.6 1461.2 632.1 1464.3 634.3C1467.8 636.8 1471.2 639.1 1474.7 642.1C1478.2 645.2 1481.7 649.5 1485.2 652.6C1488.7 655.7 1492.2 658 1495.7 660.5C1498.7 662.6 1501.8 666.5 1504.8 666.5C1507.4 666.5 1510.1 665.7 1512.7 665.7C1515.3 665.7 1518 668.3 1520.6 669.6C1523.6 671.1 1526.7 673.1 1529.7 674.1C1532.3 675 1535 674.6 1537.6 675.6C1539.8 676.4 1541.9 682.7 1544.1 685.3C1545.9 687.5 1547.6 690.2 1549.4 690.6C1551.6 691.1 1553.7 691.3 1555.9 691.3C1558.5 691.3 1561.2 689.3 1563.8 689.3C1566 689.3 1568.1 691.3 1570.3 691.3C1571.6 691.3 1572.9 687.4 1574.2 684C1576.4 678.2 1578.6 666.9 1580.8 657.8C1583.8 645.3 1586.9 630.1 1589.9 618.5C1593.4 605.1 1596.9 594.3 1600.4 584.5C1603 577.1 1605.7 569.8 1608.3 564.9C1610.9 560.1 1613.5 556.9 1616.1 555.2C1618.7 553.5 1621.4 553.4 1624 552.6C1625.7 552.1 1627.5 551 1629.2 551C1630.5 551 1631.8 553.4 1633.1 555.7C1635.3 559.6 1637.5 567.7 1639.7 574C1642.3 581.6 1645 590.1 1647.6 597.6C1650.2 605 1652.8 612.9 1655.4 618.5C1658.5 625.1 1661.5 629.1 1664.6 632.9C1668.1 637.2 1671.5 639.6 1675 642.1C1679.8 645.6 1684.6 647.1 1689.4 649.4C1695.3 652.3 1701.1 654.9 1707 657.5" fill="none" stroke="#ff8000" stroke-width="4.2" stroke-linejoin="round" stroke-linecap="butt"/>
</g>
<g clip-path="url(#obsclip)">
<path d="M89.2 823 L90.3 865 L92.7 842 L96.2 815 L98.5 879 L99.7 851 L101.5 849 L103.2 863 L105.5 850 L107.8 865 L110.2 858 L112.5 864 L116 850 L119.5 855 L122.5 849.5 L125.3 885 L126.5 846.7 L128.1 809 L130 796.5 L131.2 823 L131.9 844 L133 817 L134.8 848 L136.6 818 L138.4 850 L140.2 817 L142 850 L143.8 822 L145.6 852 L147.4 820 L149.2 850 L151 834 L152.8 866 L154.6 838 L156.4 868 L160 850 L162 846" fill="none" stroke="#3f607d" stroke-width="1.9" stroke-linejoin="round"/>
<path d="M98.5 850 V881.7 L125.3 885.9" fill="none" stroke="#3f607d" stroke-width="1.2"/>
<path d="M88 683.5C88.7 685 89.3 686.6 90 688C91 690.1 92 692.2 93 694C94 695.8 95 697.5 96 699C97 700.5 98 702.1 99 703C99.8 703.8 100.7 704.5 101.5 704.5C102.7 704.5 103.8 703 105 702C106.3 700.9 107.7 699.3 109 698C110.3 696.7 111.7 695.5 113 694C114.3 692.5 115.7 690.4 117 689C118.3 687.6 119.7 686.5 121 685.5C122.3 684.5 123.7 683.7 125 683C126.3 682.3 127.7 681.5 129 681.5C130 681.5 131 682 132 683C132.7 683.6 133.3 684.7 134 685.5C135 686.6 136 688.5 137 688.5C137.8 688.5 138.7 688.5 139.5 688.5C140.3 688.5 141.2 686.8 142 686C143 685 144 683.7 145 683C146 682.3 147 682 148 682C149 682 150 683.8 151 684.5C152 685.2 153 686.2 154 686.5C155.3 686.8 156.7 686.9 158 687" fill="none" stroke="#ff8000" stroke-width="4.4" stroke-dasharray="2.8 1.4"/>
<use href="#arr" transform="translate(102.3 831.4) rotate(6)" fill="#6697fc" stroke="#1d2b3c" stroke-width="0.65" stroke-linejoin="miter"/>
<use href="#arr" transform="translate(105.6 831.8) rotate(6)" fill="#6697fc" stroke="#1d2b3c" stroke-width="0.65" stroke-linejoin="miter"/>
<use href="#arr" transform="translate(125.3 873.5) rotate(60)" fill="#6697fc" stroke="#1d2b3c" stroke-width="0.65" stroke-linejoin="miter"/>
<use href="#arr" transform="translate(125.3 886.3) rotate(30.5)" fill="#6697fc" stroke="#1d2b3c" stroke-width="0.65" stroke-linejoin="miter"/>
<use href="#arr" transform="translate(146 840) rotate(62)" fill="#6697fc" stroke="#1d2b3c" stroke-width="0.65" stroke-linejoin="miter"/>
<use href="#arr" transform="translate(150.3 843.4) rotate(50)" fill="#6697fc" stroke="#1d2b3c" stroke-width="0.65" stroke-linejoin="miter"/>
<rect x="89" y="490" width="44" height="457" fill="#fff" opacity="0.66"/>
</g>
<line x1="159.2" y1="491.6" x2="159.2" y2="948" stroke="#8594a9" stroke-width="3.8" stroke-dasharray="15.6 16"/>
<g clip-path="url(#chartclip)">
<use href="#arr" transform="translate(173.7 855.6) rotate(49)" fill="#6697fc" stroke="#1d2b3c" stroke-width="0.65" stroke-linejoin="miter"/>
<use href="#arr" transform="translate(201.8 815.3) rotate(0)" fill="#6697fc" stroke="#1d2b3c" stroke-width="0.65" stroke-linejoin="miter"/>
<use href="#arr" transform="translate(227.2 795.8) rotate(0)" fill="#6697fc" stroke="#1d2b3c" stroke-width="0.65" stroke-linejoin="miter"/>
<use href="#arr" transform="translate(251.8 795.1) rotate(-22.5)" fill="#6697fc" stroke="#1d2b3c" stroke-width="0.65" stroke-linejoin="miter"/>
<use href="#arr" transform="translate(279.2 760) rotate(-2.5)" fill="#68fc92" stroke="#1d2b3c" stroke-width="0.65" stroke-linejoin="miter"/>
<use href="#arr" transform="translate(302.1 729.1) rotate(-18.5)" fill="#68fc92" stroke="#1d2b3c" stroke-width="0.65" stroke-linejoin="miter"/>
<use href="#arr" transform="translate(327.2 744.3) rotate(-20.7)" fill="#68fc92" stroke="#1d2b3c" stroke-width="0.65" stroke-linejoin="miter"/>
<use href="#arr" transform="translate(353.7 751.3) rotate(0)" fill="#68fc92" stroke="#1d2b3c" stroke-width="0.65" stroke-linejoin="miter"/>
<use href="#arr" transform="translate(379.5 767) rotate(0)" fill="#6697fc" stroke="#1d2b3c" stroke-width="0.65" stroke-linejoin="miter"/>
<use href="#arr" transform="translate(403.4 820.4) rotate(-21)" fill="#6697fc" stroke="#1d2b3c" stroke-width="0.65" stroke-linejoin="miter"/>
<use href="#arr" transform="translate(420.9 846.7) rotate(-67)" fill="#6697fc" stroke="#1d2b3c" stroke-width="0.65" stroke-linejoin="miter"/>
<use href="#arr" transform="translate(442 871.5) rotate(-88)" fill="#6697fc" stroke="#1d2b3c" stroke-width="0.65" stroke-linejoin="miter"/>
<use href="#arr" transform="translate(478.4 823.3) rotate(-22)" fill="#6697fc" stroke="#1d2b3c" stroke-width="0.65" stroke-linejoin="miter"/>
<use href="#arr" transform="translate(504.6 778.7) rotate(-24)" fill="#6697fc" stroke="#1d2b3c" stroke-width="0.65" stroke-linejoin="miter"/>
<use href="#arr" transform="translate(526.9 775.5) rotate(-44.6)" fill="#6697fc" stroke="#1d2b3c" stroke-width="0.65" stroke-linejoin="miter"/>
<use href="#arr" transform="translate(555 769.4) rotate(-22.9)" fill="#6697fc" stroke="#1d2b3c" stroke-width="0.65" stroke-linejoin="miter"/>
<use href="#arr" transform="translate(577.2 757.2) rotate(-42.8)" fill="#68fc92" stroke="#1d2b3c" stroke-width="0.65" stroke-linejoin="miter"/>
<use href="#arr" transform="translate(598.3 712.5) rotate(-66)" fill="#68fc92" stroke="#1d2b3c" stroke-width="0.65" stroke-linejoin="miter"/>
<use href="#arr" transform="translate(623.6 710) rotate(-65)" fill="#68fc92" stroke="#1d2b3c" stroke-width="0.65" stroke-linejoin="miter"/>
<use href="#arr" transform="translate(649.2 763.7) rotate(-65.5)" fill="#6697fc" stroke="#1d2b3c" stroke-width="0.65" stroke-linejoin="miter"/>
<use href="#arr" transform="translate(674.5 776.4) rotate(-67)" fill="#6697fc" stroke="#1d2b3c" stroke-width="0.65" stroke-linejoin="miter"/>
<use href="#arr" transform="translate(699.8 766.6) rotate(-66)" fill="#6697fc" stroke="#1d2b3c" stroke-width="0.65" stroke-linejoin="miter"/>
<use href="#arr" transform="translate(724.9 766.6) rotate(-66)" fill="#6697fc" stroke="#1d2b3c" stroke-width="0.65" stroke-linejoin="miter"/>
<use href="#arr" transform="translate(750.7 776.4) rotate(-66)" fill="#6697fc" stroke="#1d2b3c" stroke-width="0.65" stroke-linejoin="miter"/>
<use href="#arr" transform="translate(775.7 788.8) rotate(-66)" fill="#6697fc" stroke="#1d2b3c" stroke-width="0.65" stroke-linejoin="miter"/>
<use href="#arr" transform="translate(796.3 788.8) rotate(-90)" fill="#6697fc" stroke="#1d2b3c" stroke-width="0.65" stroke-linejoin="miter"/>
<use href="#arr" transform="translate(816.3 789.5) rotate(-112)" fill="#6697fc" stroke="#1d2b3c" stroke-width="0.65" stroke-linejoin="miter"/>
<use href="#arr" transform="translate(838.5 837.3) rotate(-134)" fill="#6697fc" stroke="#1d2b3c" stroke-width="0.65" stroke-linejoin="miter"/>
<use href="#arr" transform="translate(863.8 827.5) rotate(-135)" fill="#6697fc" stroke="#1d2b3c" stroke-width="0.65" stroke-linejoin="miter"/>
<use href="#arr" transform="translate(888.7 805.2) rotate(-134)" fill="#6697fc" stroke="#1d2b3c" stroke-width="0.65" stroke-linejoin="miter"/>
<use href="#arr" transform="translate(911.7 793.5) rotate(-158)" fill="#6697fc" stroke="#1d2b3c" stroke-width="0.65" stroke-linejoin="miter"/>
<use href="#arr" transform="translate(937.5 809.9) rotate(-158)" fill="#6697fc" stroke="#1d2b3c" stroke-width="0.65" stroke-linejoin="miter"/>
<use href="#arr" transform="translate(962.6 793.5) rotate(-158)" fill="#6697fc" stroke="#1d2b3c" stroke-width="0.65" stroke-linejoin="miter"/>
<use href="#arr" transform="translate(988.3 794.2) rotate(-158)" fill="#6697fc" stroke="#1d2b3c" stroke-width="0.65" stroke-linejoin="miter"/>
<use href="#arr" transform="translate(1012.9 784.1) rotate(-158)" fill="#6697fc" stroke="#1d2b3c" stroke-width="0.65" stroke-linejoin="miter"/>
<use href="#arr" transform="translate(1038.7 809.9) rotate(-158)" fill="#6697fc" stroke="#1d2b3c" stroke-width="0.65" stroke-linejoin="miter"/>
<use href="#arr" transform="translate(1064 799.8) rotate(-158)" fill="#6697fc" stroke="#1d2b3c" stroke-width="0.65" stroke-linejoin="miter"/>
<use href="#arr" transform="translate(1089.1 761.9) rotate(-158)" fill="#68fc92" stroke="#1d2b3c" stroke-width="0.65" stroke-linejoin="miter"/>
<use href="#arr" transform="translate(1114.2 758.4) rotate(-158)" fill="#68fc92" stroke="#1d2b3c" stroke-width="0.65" stroke-linejoin="miter"/>
<use href="#arr" transform="translate(1139.5 752) rotate(-158)" fill="#68fc92" stroke="#1d2b3c" stroke-width="0.65" stroke-linejoin="miter"/>
<use href="#arr" transform="translate(1164.8 752) rotate(-158)" fill="#68fc92" stroke="#1d2b3c" stroke-width="0.65" stroke-linejoin="miter"/>
<use href="#arr" transform="translate(1189.9 765.4) rotate(-158)" fill="#6697fc" stroke="#1d2b3c" stroke-width="0.65" stroke-linejoin="miter"/>
<use href="#arr" transform="translate(1215.6 784.8) rotate(-179)" fill="#6697fc" stroke="#1d2b3c" stroke-width="0.65" stroke-linejoin="miter"/>
<use href="#arr" transform="translate(1240.2 827) rotate(180)" fill="#6697fc" stroke="#1d2b3c" stroke-width="0.65" stroke-linejoin="miter"/>
<use href="#arr" transform="translate(1265.8 817.6) rotate(179)" fill="#6697fc" stroke="#1d2b3c" stroke-width="0.65" stroke-linejoin="miter"/>
<use href="#arr" transform="translate(1291.9 798.7) rotate(158.6)" fill="#6697fc" stroke="#1d2b3c" stroke-width="0.65" stroke-linejoin="miter"/>
<use href="#arr" transform="translate(1317.1 794.6) rotate(-178)" fill="#6697fc" stroke="#1d2b3c" stroke-width="0.65" stroke-linejoin="miter"/>
<use href="#arr" transform="translate(1343.3 794.6) rotate(180)" fill="#6697fc" stroke="#1d2b3c" stroke-width="0.65" stroke-linejoin="miter"/>
<use href="#arr" transform="translate(1367.9 811.8) rotate(158.6)" fill="#6697fc" stroke="#1d2b3c" stroke-width="0.65" stroke-linejoin="miter"/>
<use href="#arr" transform="translate(1394.1 801.9) rotate(158.6)" fill="#6697fc" stroke="#1d2b3c" stroke-width="0.65" stroke-linejoin="miter"/>
<use href="#arr" transform="translate(1418.4 818.1) rotate(158.6)" fill="#6697fc" stroke="#1d2b3c" stroke-width="0.65" stroke-linejoin="miter"/>
<use href="#arr" transform="translate(1443.3 843.3) rotate(158.6)" fill="#6697fc" stroke="#1d2b3c" stroke-width="0.65" stroke-linejoin="miter"/>
<use href="#arr" transform="translate(1472.6 846.9) rotate(135.7)" fill="#6697fc" stroke="#1d2b3c" stroke-width="0.65" stroke-linejoin="miter"/>
<use href="#arr" transform="translate(1506.2 856.9) rotate(90)" fill="#6697fc" stroke="#1d2b3c" stroke-width="0.65" stroke-linejoin="miter"/>
<use href="#arr" transform="translate(1535.5 839.9) rotate(68.4)" fill="#6697fc" stroke="#1d2b3c" stroke-width="0.65" stroke-linejoin="miter"/>
<use href="#arr" transform="translate(1564.3 833.3) rotate(45.5)" fill="#6697fc" stroke="#1d2b3c" stroke-width="0.65" stroke-linejoin="miter"/>
<use href="#arr" transform="translate(1589.4 829.4) rotate(45)" fill="#6697fc" stroke="#1d2b3c" stroke-width="0.65" stroke-linejoin="miter"/>
<use href="#arr" transform="translate(1611.4 858.2) rotate(68.6)" fill="#6697fc" stroke="#1d2b3c" stroke-width="0.65" stroke-linejoin="miter"/>
<use href="#arr" transform="translate(1620.8 854.8) rotate(180)" fill="#6697fc" stroke="#1d2b3c" stroke-width="0.65" stroke-linejoin="miter"/>
<use href="#arr" transform="translate(1664.7 876.8) rotate(-44)" fill="#6697fc" stroke="#1d2b3c" stroke-width="0.65" stroke-linejoin="miter"/>
<use href="#arr" transform="translate(1692.7 840.5) rotate(0)" fill="#6697fc" stroke="#1d2b3c" stroke-width="0.65" stroke-linejoin="miter"/>
<use href="#arr" transform="translate(1711.6 782.7) rotate(-67)" fill="#6697fc" stroke="#1d2b3c" stroke-width="0.65" stroke-linejoin="miter"/>
</g>
<g font-size="17" fill="#111">
<text x="54.0" y="515.9" font-weight="bold" font-size="17.2">°C</text>
<text x="0" y="530.8" text-anchor="end" transform="translate(75.4 0) scale(1.09 1)">20</text>
<text x="0" y="634.6" text-anchor="end" transform="translate(75.4 0) scale(1.09 1)">15</text>
<text x="0" y="739.2" text-anchor="end" transform="translate(75.4 0) scale(1.09 1)">10</text>
<text x="0" y="841.6" text-anchor="end" transform="translate(75.4 0) scale(1.09 1)">5</text>
<text x="0" y="945.7" text-anchor="end" transform="translate(75.4 0) scale(1.09 1)">0</text>
<text x="131.3" y="508.7" textLength="30.2" lengthAdjust="spacingAndGlyphs">100</text>
<text x="162.2" y="508.7" font-weight="bold" font-size="18.5">%</text>
<text x="0" y="615.6" transform="translate(130.4 0) scale(1.13 1)">75</text>
<text x="0" y="727" transform="translate(130.4 0) scale(1.13 1)">50</text>
<text x="0" y="837.8" transform="translate(130.4 0) scale(1.13 1)">25</text>
<text x="0" y="949" transform="translate(130.4 0) scale(1.13 1)">0</text>
<text transform="translate(52.1 874.9) rotate(-90)" font-size="19.2" textLength="120.4" lengthAdjust="spacingAndGlyphs">TEMPERATURE</text>
<text transform="translate(124.2 838.5) rotate(-90)" font-size="19" textLength="138.3" lengthAdjust="spacingAndGlyphs">CHANCE OF RAIN</text>
</g>
<rect x="88.4" y="947.2" width="1617" height="2.2" fill="#555"/>
<rect x="88.3" y="948" width="2.2" height="79" fill="#5a5a5a"/>
<rect x="139.1" y="948" width="1.7" height="10.5" fill="#707070"/>
<rect x="189.7" y="948" width="1.7" height="10.5" fill="#707070"/>
<rect x="240.2" y="948" width="1.7" height="10.5" fill="#707070"/>
<rect x="290.5" y="948" width="2.2" height="79" fill="#5a5a5a"/>
<rect x="341.3" y="948" width="1.7" height="10.5" fill="#707070"/>
<rect x="391.8" y="948" width="1.7" height="10.5" fill="#707070"/>
<rect x="442.4" y="948" width="1.7" height="10.5" fill="#707070"/>
<rect x="492.7" y="948" width="2.2" height="79" fill="#5a5a5a"/>
<rect x="543.5" y="948" width="1.7" height="10.5" fill="#707070"/>
<rect x="594" y="948" width="1.7" height="10.5" fill="#707070"/>
<rect x="644.6" y="948" width="1.7" height="10.5" fill="#707070"/>
<rect x="694.9" y="948" width="2.2" height="79" fill="#5a5a5a"/>
<rect x="745.7" y="948" width="1.7" height="10.5" fill="#707070"/>
<rect x="796.2" y="948" width="1.7" height="10.5" fill="#707070"/>
<rect x="846.8" y="948" width="1.7" height="10.5" fill="#707070"/>
<rect x="897.1" y="948" width="2.2" height="79" fill="#5a5a5a"/>
<rect x="947.9" y="948" width="1.7" height="10.5" fill="#707070"/>
<rect x="998.4" y="948" width="1.7" height="10.5" fill="#707070"/>
<rect x="1049" y="948" width="1.7" height="10.5" fill="#707070"/>
<rect x="1099.3" y="948" width="2.2" height="79" fill="#5a5a5a"/>
<rect x="1150.1" y="948" width="1.7" height="10.5" fill="#707070"/>
<rect x="1200.7" y="948" width="1.7" height="10.5" fill="#707070"/>
<rect x="1251.2" y="948" width="1.7" height="10.5" fill="#707070"/>
<rect x="1301.5" y="948" width="2.2" height="79" fill="#5a5a5a"/>
<rect x="1352.3" y="948" width="1.7" height="10.5" fill="#707070"/>
<rect x="1402.9" y="948" width="1.7" height="10.5" fill="#707070"/>
<rect x="1453.4" y="948" width="1.7" height="10.5" fill="#707070"/>
<rect x="1503.7" y="948" width="2.2" height="79" fill="#5a5a5a"/>
<rect x="1554.5" y="948" width="1.7" height="10.5" fill="#707070"/>
<rect x="1605.1" y="948" width="1.7" height="10.5" fill="#707070"/>
<rect x="1655.6" y="948" width="1.7" height="10.5" fill="#707070"/>
<g font-weight="bold" fill="#111" text-anchor="middle">
<text x="139.9" y="983.5" font-size="17.2" textLength="38.8" lengthAdjust="spacingAndGlyphs">6am</text>
<text x="241" y="983.5" font-size="17.2" textLength="39.8" lengthAdjust="spacingAndGlyphs">6pm</text>
<text x="342.2" y="983.5" font-size="17.2" textLength="38.8" lengthAdjust="spacingAndGlyphs">6am</text>
<text x="443.2" y="983.5" font-size="17.2" textLength="39.8" lengthAdjust="spacingAndGlyphs">6pm</text>
<text x="544.3" y="983.5" font-size="17.2" textLength="38.8" lengthAdjust="spacingAndGlyphs">6am</text>
<text x="645.4" y="983.5" font-size="17.2" textLength="39.8" lengthAdjust="spacingAndGlyphs">6pm</text>
<text x="746.5" y="983.5" font-size="17.2" textLength="38.8" lengthAdjust="spacingAndGlyphs">6am</text>
<text x="847.6" y="983.5" font-size="17.2" textLength="39.8" lengthAdjust="spacingAndGlyphs">6pm</text>
<text x="948.7" y="983.5" font-size="17.2" textLength="38.8" lengthAdjust="spacingAndGlyphs">6am</text>
<text x="1049.8" y="983.5" font-size="17.2" textLength="39.8" lengthAdjust="spacingAndGlyphs">6pm</text>
<text x="1151" y="983.5" font-size="17.2" textLength="38.8" lengthAdjust="spacingAndGlyphs">6am</text>
<text x="1252.1" y="983.5" font-size="17.2" textLength="39.8" lengthAdjust="spacingAndGlyphs">6pm</text>
<text x="1353.1" y="983.5" font-size="17.2" textLength="38.8" lengthAdjust="spacingAndGlyphs">6am</text>
<text x="1454.2" y="983.5" font-size="17.2" textLength="39.8" lengthAdjust="spacingAndGlyphs">6pm</text>
<text x="1555.3" y="983.5" font-size="17.2" textLength="38.8" lengthAdjust="spacingAndGlyphs">6am</text>
<text x="1656.4" y="983.5" font-size="17.2" textLength="39.8" lengthAdjust="spacingAndGlyphs">6pm</text>
<text x="186.5" y="1009.9" font-size="23.6" textLength="103.8" lengthAdjust="spacingAndGlyphs">Saturday</text>
<text x="380.5" y="1009.9" font-size="23.6" textLength="84.8" lengthAdjust="spacingAndGlyphs">Sunday</text>
<text x="596.7" y="1009.9" font-size="23.6" textLength="91.8" lengthAdjust="spacingAndGlyphs">Monday</text>
<text x="798" y="1009.9" font-size="23.6" textLength="94.8" lengthAdjust="spacingAndGlyphs">Tuesday</text>
<text x="999" y="1009.9" font-size="23.6" textLength="131.5" lengthAdjust="spacingAndGlyphs">Wednesday</text>
<text x="1196.4" y="1009.9" font-size="23.6" textLength="106.5" lengthAdjust="spacingAndGlyphs">Thursday</text>
<text x="1399" y="1009.9" font-size="23.6" textLength="71.4" lengthAdjust="spacingAndGlyphs">Friday</text>
<text x="1602.6" y="1009.9" font-size="23.6" textLength="103.8" lengthAdjust="spacingAndGlyphs">Saturday</text>
</g>
<path fill="#000" fill-rule="evenodd" d="M0 0H1707 V1029 H0Z M2 2V1027 H1705 V2Z"/>
</svg>
</body></html>
